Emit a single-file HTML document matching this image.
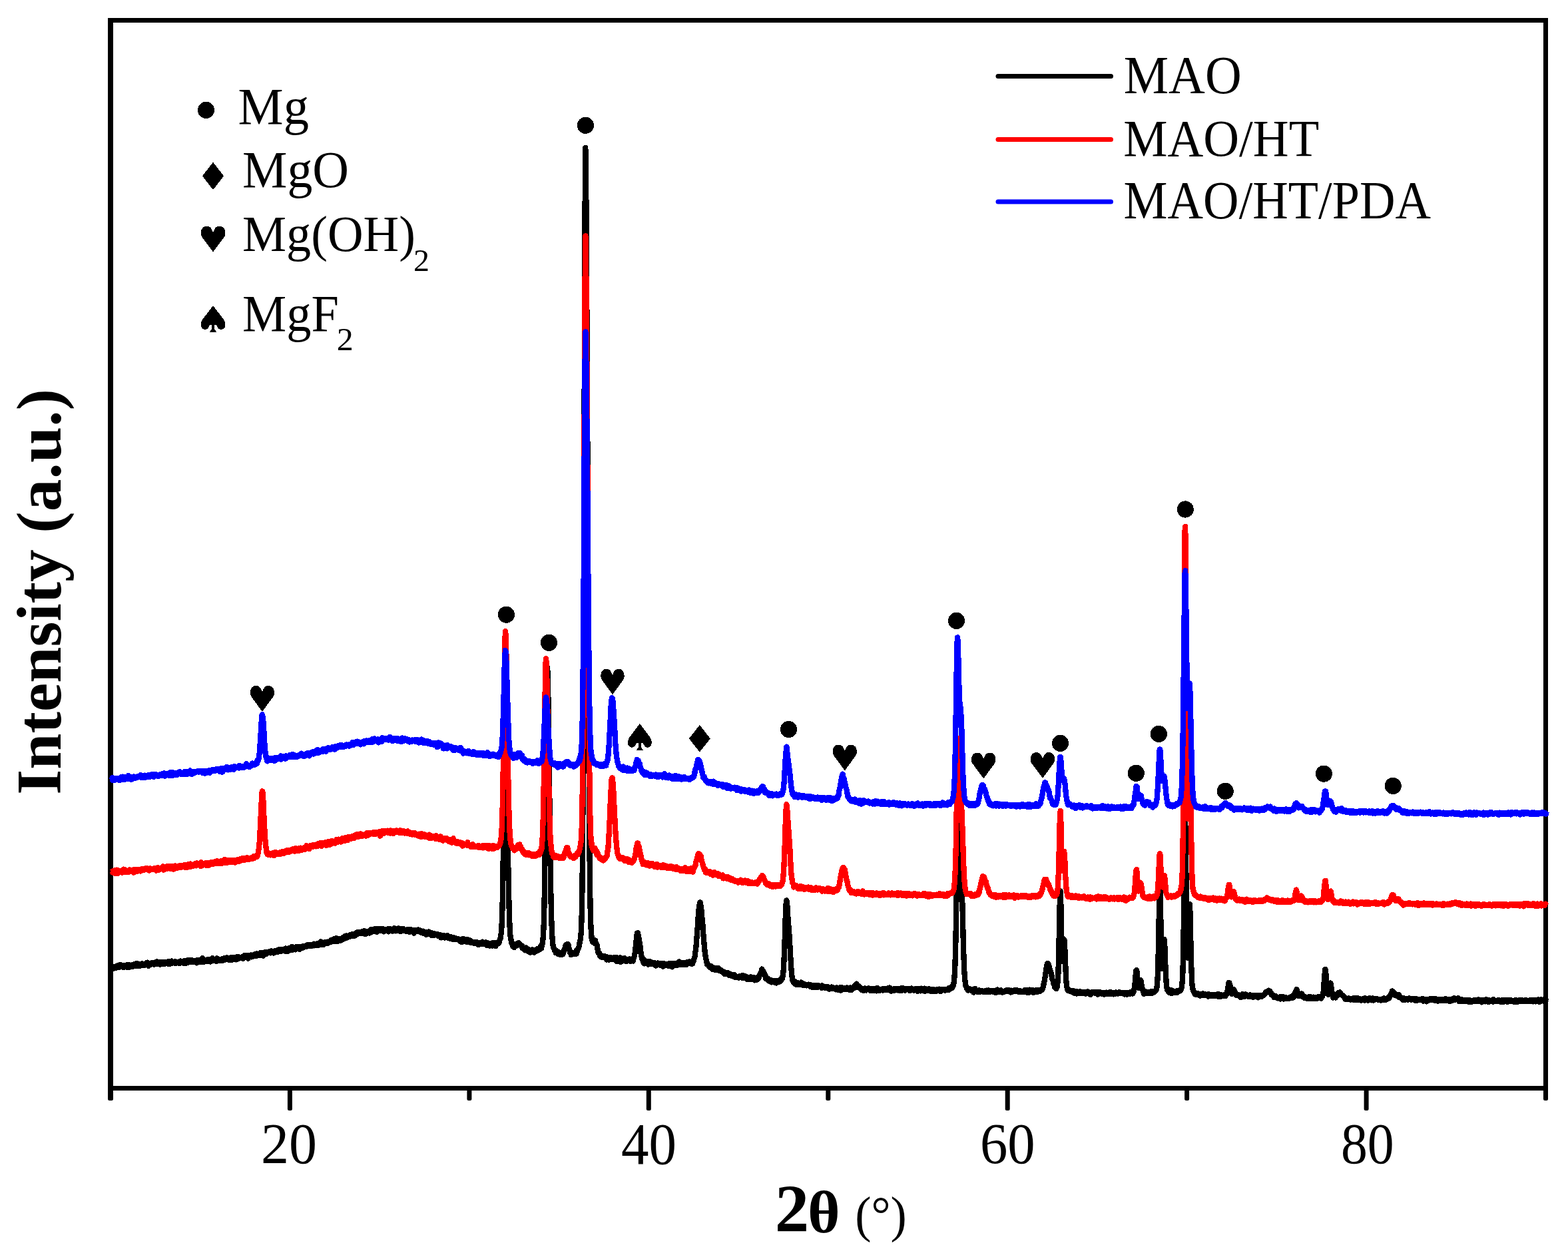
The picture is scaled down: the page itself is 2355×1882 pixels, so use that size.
<!DOCTYPE html>
<html><head><meta charset="utf-8"><title>XRD</title>
<style>
html,body{margin:0;padding:0;background:#fff;overflow:hidden}
svg{display:block}
text{font-family:"Liberation Serif","Times New Roman",serif;fill:#000}
.tl{font-size:85px}
.lg{font-size:77px}
.sub{font-size:45px}
.ax{font-size:98px;font-weight:bold}
.axr{font-size:80px;font-weight:normal}
</style></head><body>
<svg width="2355" height="1882" viewBox="0 0 2355 1882">
<rect width="2355" height="1882" fill="#fff"/>
<g fill="#000">
<rect x="162" y="27" width="2163" height="7"/>
<rect x="162" y="1631" width="2163" height="7"/>
<rect x="162" y="27" width="8" height="1611"/>
<rect x="2318" y="27" width="7" height="1611"/>
<rect x="162" y="1633" width="8" height="20" rx="2.5"/>
<rect x="2318" y="1633" width="7" height="20" rx="2.5"/>
<rect x="431.9" y="1633" width="7" height="35" rx="2.5"/>
<rect x="970.8" y="1633" width="7" height="35" rx="2.5"/>
<rect x="1509.7" y="1633" width="7" height="35" rx="2.5"/>
<rect x="2048.6" y="1633" width="7" height="35" rx="2.5"/>
<rect x="701.4" y="1633" width="7" height="20" rx="2.5"/>
<rect x="1240.3" y="1633" width="7" height="20" rx="2.5"/>
<rect x="1779.1" y="1633" width="7" height="20" rx="2.5"/>
</g>
<g fill="none" stroke-width="8.3" stroke-linejoin="round" stroke-linecap="butt" shape-rendering="crispEdges">
<path d="M166.5 1453.7 l.5-.1 .6 0 .6-.1 .5-.6 .6-.8 .5 1.3 .6 1.5 .5-2.3 .6-.2 .5 1.3 .6-.2 .5-.4 .6-1.4 .5 1.1 .6 .8 .5-2.6 .6 1.1 .5-1.9 .6 .7 .5-.8 .6 2 .5-1.4 .6 1.9 .5-.2 .6-.5 .5-3 .6 2.4 .5 .6 .6 .1 .5-2.1 .6 1.3 .5-.7 .6 .1 .5 2.3 .6-2.4 .5 .9 .6 1.1 .5-1.9 .6 .6 .5 .2 .6-.1 .5-1.7 .6 1.6 .5 1.5 .6-3.7 .5 3 .6-1 .5-1 .6 3.2 .5-1.6 .6-2.5 .5 1.5 .6 .6 .5-1 .6 1 .5-1 .6 .9 .5 .9 .6-2.7 .5 1.1 .6-.9 .5 .6 .6-1.6 .5 .7 .6 .4 .5 1.3 .6 .3 .5-3.2 .6 .6 .5 1.8 .6-3.4 .5 1.9 .6 .4 .5 1.6 .6-.7 .5-1.4 .6-.1 .5 .1 .6 2.2 .5-2.5 .6 .1 .5 .8 .6-.6 .5-.2 .6-1.2 .5 1.3 .6-.5 .5 1.9 .6-.7 .5-.9 .6 .9 .5-1.3 .6 1.6 .5-1.3 .6 .7 .5-2.4 .6 2 .5-2.6 .6-.5 .5 2.1 .6-.8 .5 1.3 .6 2.6 .5-3.9 .6 .2 .5 1 .6 .3 .5-.8 .6-.1 .5 1.1 .6-.3 .5-2 .6 1.2 .5 .1 .6-1.4 .5 1.6 .6-1.5 .5 2.3 .6-1 .5-.2 .6-.9 .5 .6 .6-2.4 .5 1 .6 1.9 .5-3.2 .6 3.7 .5-3.3 .6 3.1 .5-2 .6 2 .5-.9 .6-2.1 .5 3.5 .6 .2 .5-1.9 .6-.3 .5 .1 .6-1.1 .5 2.6 .6-2.1 .5 .6 .6-1 .5 .2 .6-.8 .5 3.1 .6-1.8 .5 1.4 .6-1.2 .5-1 .6 .5 .5-.4 .6 .7 .5-.5 .6 .1 .5-1.4 .6 .7 .5 3 .6-2.9 .5-.5 .6 1.7 .5 1.3 .6-3.6 .5 1.5 .6-.5 .5-1.5 .6 3.1 .5-.9 .6 .1 .5-1.1 .6 1.5 .5-1.3 .6 .5 .5-1.3 .6-.1 .5 3.1 .6-2.3 .5 1 .6-.4 .5-.6 .6-.1 .5 1.4 .6-1.2 .5 .2 .6 .2 .5 1.4 .6-.7 .5-.4 .6-1.2 .5-1 .6 2.9 .5 0 .6-1.5 .5 .9 .6 .2 .5 .1 .6 .1 .5-1.8 .6 2.4 .5-3.4 .6 2.6 .5-.5 .6 .4 .5 1.3 .6-.6 .5-3.3 .6-.7 .5 3.1 .6-2.3 .5 1.2 .6 1.1 .5-3.2 .6-.6 .5 2.9 .6-.3 .5-.4 .6 .4 .5-1.2 .6-.8 .5 1.6 .6-1 .5-.9 .6 2.7 .5-.8 .6 .6 .5-1.8 .6 .4 .5-.5 .6 .1 .5 1.3 .6-1.2 .5 1.4 .6-.1 .5 2.1 .6-4.3 .5 2.8 .6-1.3 .5 .1 .6-1.8 .5 1.2 .6 1.4 .5-1 .6 .1 .5-.5 .6 1.8 .5-1.5 .6-2.8 .5 1.9 .6-1.7 .5-1.6 .6 3.3 .5 2.3 .6-1.6 .5-1.6 .6 .3 .5 2.5 .6-1.2 .5-.2 .6-.2 .5 .1 .6 .9 .5-.3 .6-.5 .5-1.6 .6 1.9 .5-1.5 .6 2.1 .5-3 .6 1.4 .5 .1 .6-1.6 .5 3.7 .6-.3 .5-2.5 .6 1.5 .5-.5 .6-3.8 .5 3.5 .6-.4 .5 .1 .6-1.5 .5 1 .6 .1 .5 1.6 .6-1.1 .5-.4 .6 1.8 .5-2.6 .6 .1 .5-1.8 .6 4.2 .5-.8 .6-.1 .5-.4 .6-.7 .5 .1 .6-.6 .5 0 .6 .2 .5 1.8 .6-1.2 .5-.8 .6-.7 .5-.2 .6 2.8 .5-1.4 .6-.6 .5-.6 .6-1 .5 1.3 .6 1.1 .5-1.6 .6 .1 .5 0 .6 .3 .5-2.1 .6 1.6 .5-.8 .6 2.1 .5-2.1 .6 1.6 .5 1.1 .6-2.3 .5-.4 .6 .9 .5-.3 .6-1.3 .5 1.8 .6 1.9 .5-2.9 .6 0 .5-1.1 .6 1.6 .5-2 .6 .1 .5 3 .6-2.8 .5 2.4 .6 .5 .5-1.6 .6 .3 .5 1.7 .6-2.8 .5-.5 .6-1 .5 1.6 .6 1.8 .5-.7 .6-2.5 .5 .1 .6 .4 .5 .9 .6-.7 .5 .5 .6 0 .5-.8 .6 .3 .5 .2 .6-.4 .5 .6 .6 1.7 .5-1.7 .6-.7 .5-2.3 .6 2.6 .5-3 .6 .6 .5 2.7 .6-.2 .5-1.2 .6-2 .5 1.6 .6-.4 .5 1.5 .6 2 .5-2.7 .6-1.3 .5-.6 .6 1.3 .5-.2 .6-1.3 .5 1.5 .6-1.7 .5 2.8 .6-.2 .5-.1 .6-2 .5 1.1 .6-.9 .5-.4 .6 0 .5-1.3 .6-.3 .5 2.7 .6-1.4 .5 .4 .6 .9 .5-3.5 .6 1.1 .5 1.1 .6 .1 .5-1 .6 1.6 .5-1.1 .6-1.9 .5 .2 .6 2.1 .5-.5 .6-3.1 .5 3.9 .6-1 .5 .8 .6-2.3 .5 0 .6-1.1 .5 4.5 .6-3.5 .5 2.1 .6-2.9 .5 .9 .6-2.4 .5 1.5 .6 1.6 .5-3 .6 2.8 .5-1 .6-1.8 .5 .6 .6-.1 .5 .4 .6-.7 .5-.5 .6 .6 .5-1 .6-.5 .5 1.5 .6 1 .5-3.1 .6 1.8 .5-.9 .6-.5 .5 2.2 .6-1.8 .5 2.4 .6-2.9 .5 1.4 .6-.9 .5-.7 .6 1.5 .5-1 .6 .9 .5-.9 .6-1.4 .5 1.1 .6 .1 .5 1.1 .6-2.4 .5 1 .6-2.2 .5 2.8 .6-2.2 .5-1 .6 2.1 .5 1.4 .6-3.4 .5 .5 .6 .3 .5-.6 .6 1.8 .5-1.5 .6 0 .5 1.5 .6-1.7 .5 1.4 .6-1.8 .5-.4 .6-.9 .5 4.5 .6-2.8 .5 .7 .6-.5 .5 .2 .6-.2 .5 2.2 .6-3.8 .5-.7 .6 .6 .5-.5 .6 2.5 .5 0 .6-2.3 .5-.6 .6 1.2 .5 2.1 .6-5.3 .5 4.1 .6-2.1 .5 2.6 .6-2.8 .5 .9 .6-1.6 .5 .6 .6 2.9 .5-.8 .6-1.6 .5-.7 .6-1.4 .5 1.8 .6 .4 .5-.2 .6-.1 .5-1.4 .6 1.3 .5-.1 .6 1.6 .5 .6 .6-2.6 .5-.8 .6 .7 .5-.7 .6-.3 .5 .8 .6-1.4 .5 2 .6-1 .5 .4 .6-.7 .5-.7 .6-.4 .5 .8 .6-.5 .5 .9 .6-.4 .5-1.8 .6 1.7 .5-1.9 .6 .8 .5 .3 .6-2.3 .5 2.6 .6 0 .5-.5 .6-.4 .5-.1 .6-.8 .5 .7 .6-.4 .5 .7 .6-1.7 .5 1.7 .6-.3 .5-.4 .6-.5 .5 1.1 .6-2.8 .5 2.5 .6-.4 .5 0 .6 0 .5-1.4 .6 .4 .5 1 .6-.4 .5-.4 .6-2.2 .5 2.4 .6 .7 .5-.3 .6-1.1 .5-2.3 .6 3 .5-1.5 .6-3.1 .5 3.5 .6-2.4 .5 .1 .6 .7 .5 2.3 .6-2.2 .5 .7 .6 1.8 .5-.4 .6-2.2 .5-.3 .6-1.4 .5 .6 .6 1.3 .5-.2 .6-.4 .5 .9 .6-2.3 .5 .8 .6 .9 .5-.4 .6 .5 .5-.9 .6-1 .5 .7 .6-1.9 .5-.9 .6 2.7 .5-1 .6 .4 .5-2.7 .6 1.6 .5-.5 .6-.4 .5-1.9 .6 2.3 .5 1.4 .6-.8 .5-1.4 .6 .6 .5 .8 .6-4.5 .5 3.1 .6 .7 .5 0 .6 1.1 .5-.9 .6-1.1 .5-.2 .6 .4 .5-1.8 .6 .4 .5 1 .6 1.2 .5-2.9 .6 0 .5 .1 .6 1.2 .5-1.9 .6 1.7 .5-3.2 .6 .8 .5-.2 .6 1 .5 .1 .6-3.3 .5 .5 .6 1.4 .5-1.5 .6-1.2 .5 3 .6-.9 .5-.2 .6-1.4 .5 1.7 .6-1.8 .5 1.5 .6-2.7 .5-.1 .6 1.1 .5-1.3 .6 1.5 .5-.7 .6-1.6 .5 1 .6-.7 .5 1.4 .6-2.1 .5 .1 .6 1.9 .5 1.1 .6-.5 .5-2.6 .6 .1 .5 1.5 .6-2.3 .5-1.2 .6 1.2 .5 .3 .6-1.7 .5-1.2 .6 .1 .5 2.5 .6-1.9 .5 .7 .6 .3 .5 .4 .6-1.3 .5 1 .6-1.9 .5 .6 .6-.9 .5 2.6 .6-1.5 .5-1 .6 .4 .5 .1 .6 1 .5-2.9 .6 .6 .5 .7 .6 3.6 .5-2.1 .6-1.4 .5 1 .6 1.6 .5-3 .6-.2 .5 1.9 .6-1 .5 .1 .6-1.5 .5 3 .6-.4 .5-1.5 .6 .1 .5-3.5 .6 3.3 .5-1.1 .6 .7 .5 .2 .6-1.3 .5-1.8 .6 2.5 .5-1.4 .6 .4 .5-.4 .6 .3 .5-2.6 .6 4.4 .5-1.3 .6 1 .5 1 .6-2.5 .5-2.3 .6 1.1 .5-.5 .6 .9 .5 .6 .6-2.6 .5 2.9 .6-2.4 .5 2.2 .6-.5 .5-.3 .6 .2 .5-.6 .6-.1 .5-1.4 .6 2 .5 2.3 .6 .2 .5-.9 .6-.8 .5-1.8 .6 2.7 .5-1.9 .6-.1 .5-.3 .6 .5 .5-.7 .6 .4 .5-1.2 .6 .9 .5 3.3 .6-3 .5-.2 .6 1 .5 .2 .6-2.3 .5 1.1 .6 1.5 .5-.9 .6-.1 .5 1.8 .6-2.8 .5 .9 .6-.7 .5 2.5 .6-4.3 .5 1.7 .6 .1 .5 1.6 .6-.1 .5 1 .6-3.7 .5 2.9 .6-1.2 .5-.5 .6 1.5 .5-1.8 .6-1.4 .5 2.2 .6-1.4 .5 1.1 .6 1.3 .5-.1 .6 1.7 .5-2.2 .6-1.7 .5 1 .6-.1 .5-.4 .6 2.1 .5-1.3 .6-1.6 .5 3.4 .6-1 .5 .6 .6-.3 .5 .7 .6-.7 .5 1.6 .6-1 .5 0 .6 .1 .5-2.3 .6 1.6 .5 0 .6 .6 .5-1.9 .6 3.8 .5-1.9 .6-1.6 .5-.6 .6 1.9 .5 .2 .6-.7 .5 1.1 .6-.9 .5 1.5 .6-1.5 .5 .9 .6 1.3 .5 2.1 .6-4.5 .5 .8 .6-.5 .5 2.1 .6-2.3 .5 .8 .6 .6 .5-1.1 .6 .1 .5 .6 .6-1.9 .5 .8 .6 1.4 .5 .8 .6-.4 .5-1.9 .6 1.7 .5 1.6 .6-.2 .5-.7 .6-.9 .5 1.9 .6-1.4 .5-.6 .6 .5 .5 2.9 .6-1.4 .5 1.2 .6-1.9 .5 1.8 .6-1.8 .5 .7 .6 3.4 .5-2.1 .6-1.5 .5 .7 .6 .6 .5 1.2 .6-2 .5-1.5 .6 2 .5 .4 .6 .3 .5 1.6 .6-1.1 .5 .7 .6-2.3 .5 2.6 .6 1.7 .5-1.6 .6-.5 .5 0 .6 2.1 .5-3.2 .6 1.1 .5 .9 .6 .4 .5-1.3 .6 1 .5-.6 .6 .6 .5-.2 .6-1.1 .5 1.5 .6 1.3 .5-2.2 .6 1 .5 1.3 .6-2.1 .5 1.7 .6-1.4 .5 2.9 .6 1.5 .5-.2 .6-2.7 .5 1.3 .6-.6 .5 .1 .6 1.9 .5-3.5 .6 3.1 .5-1.3 .6 2 .5-1.4 .6-1 .5 1.3 .6 .7 .5-.8 .6 .7 .5-1.2 .6-1.9 .5 3.9 .6-.1 .5-.6 .6 0 .5 1.3 .6-1.7 .5-.2 .6 .7 .5 1.9 .6-3.1 .5 3.3 .6-2.2 .5-.4 .6 3 .5-1.5 .6-1.4 .5 1.3 .6 1.7 .5 .4 .6-1.9 .5 1.2 .6 .5 .5-1.6 .6 1.4 .5-.4 .6-.5 .5 .1 .6 .9 .5 0 .6-.6 .5 .3 .6 2 .5-1 .6 1 .5 .5 .6-.7 .5 2.2 .6-3.7 .5 2.1 .6-1.3 .5 2.9 .6-.1 .5-4.5 .6 1.4 .5 2.1 .6 .3 .5 0 .6-.9 .5 .8 .6 .4 .5-.9 .6 1.5 .5-4 .6 3.8 .5-2 .6 2.6 .5-1.4 .6-.7 .5 1.7 .6-1.6 .5 .1 .6-.7 .5 2.1 .6 .7 .5 .8 .6-1.4 .5 1.6 .6-1.2 .5-.1 .6 1 .5 .7 .6-1.7 .5 .2 .6 .2 .5 .4 .6-1.1 .5 2.5 .6-1.7 .5 1.1 .6-1.5 .5 1.6 .6 .1 .5-.9 .6 3.1 .5-2 .6 1.8 .5-.9 .6-1.9 .5 .4 .6 1.1 .5-.4 .6 0 .5-.3 .6-1.8 .5 2 .6-2.4 .5 3.3 .6-1.3 .5 .1 .6 .7 .5 .6 .6-2 .5-.4 .6 .9 .5-1.1 .6 1.4 .5 3.2 .6-3.2 .5 2.2 .6-2.5 .5 2.1 .6-.7 .5 .3 .6 .9 .5 1.5 .6-1.9 .5-.1 .6-1.3 .5 1.9 .6-1 .5 1.4 .6-1.1 .5 2.2 .6-4.7 .5 2.1 .6 1.4 .5-1.5 .6-.6 .5 .5 .6-1.4 .5 1.7 .6 2.8 .5-1.8 .6-3 .5 .1 .6 .3 .5 1.5 .6-2.6 .5-.3 .6 1.5 .5-.7 .6-2.3 .5-1.9 .6-1.9 .5-.9 .6-5.1 .5-1.3 .6-9.8 .5-11.3 .6-17.1 .5-27.4 .6-38.1 .5-40.8 .6-48.8 .5-53.2 .6-46.4 .5-33.1 .6-18.6 .5 5 .6 10.9 .5 27.8 .6 34.9 .5 39.5 .6 42.8 .5 41.6 .6 37.2 .5 33.8 .6 21.7 .5 22.4 .6 13.3 .5 10.9 .6 6.7 .5 2.9 .6 3.1 .5 3.7 .6 .8 .5-.3 .6 4.2 .5 .9 .6-4.2 .5 2.6 .6 3.1 .5-1.9 .6-.6 .5-.5 .6-.5 .5 .2 .6-.7 .5 1.2 .6-1.9 .5-.5 .6-1.5 .5 1 .6-1.4 .5 .6 .6 1.5 .5-.7 .6 .6 .5 .4 .6 .3 .5 .6 .6 .6 .5 2.2 .6-1.5 .5 3.7 .6-.9 .5-.4 .6 .8 .5 .2 .6 1.4 .5-.8 .6 2.6 .5-2.2 .6-1.7 .5 2.1 .6-1.5 .5 2.6 .6 1.5 .5-.4 .6-2.4 .5 .8 .6 3.3 .5-1.8 .6-.3 .5 1.4 .6 1.8 .5-1.4 .6-1.4 .5 .3 .6 .4 .5-1.5 .6-.6 .5 1.4 .6-1.2 .5 1.1 .6 .2 .5 2.8 .6-4 .5 .9 .6-.1 .5 .7 .6 .7 .5-2 .6-.5 .5-1.2 .6 .8 .5 1.6 .6-.8 .5-1.6 .6 .6 .5 .1 .6 .2 .5-1.8 .6-.1 .5-2.7 .6 .1 .5 2.4 .6-6.1 .5 .3 .6-2.3 .5-5.4 .6-8 .5-11 .6-18.3 .5-26.6 .6-38.7 .5-44.3 .6-55.9 .5-59.4 .6-57.2 .5-47.8 .6-30.2 .5-10.7 .6 11.8 .5 24.1 .6 32.7 .5 39.8 .6 42.8 .5 47.4 .6 47.8 .5 39.6 .6 38.2 .5 28.4 .6 22.6 .5 14.6 .6 12.3 .5 8.6 .6 6 .5 3.4 .6 .8 .5 1.4 .6 .4 .5 2.5 .6-.1 .5 1.8 .6 1.9 .5-1.7 .6-1.3 .5 1.2 .6-.4 .5 .6 .6 3.4 .5-1.1 .6-1.9 .5 2.8 .6 1 .5-1.9 .6-.3 .5 .5 .6 .8 .5 .5 .6 .6 .5-.2 .6-.3 .5-.3 .6-1.5 .5-3.5 .6 .6 .5-.7 .6-2.4 .5 0 .6-3.3 .5-2.4 .6 1.5 .5-2.1 .6-1.1 .5 .9 .6 .8 .5 .3 .6-1.9 .5 3.9 .6 2 .5 1 .6 2.9 .5 2.6 .6-1 .5 0 .6 4.5 .5-2.7 .6-.7 .5 1.9 .6 .3 .5-1.5 .6 1.7 .5-1.8 .6-.8 .5 1.1 .6 .3 .5-2.1 .6 .7 .5-1.1 .6 3 .5-5 .6 1.7 .5-2.7 .6-1.1 .5-.2 .6-1.2 .5-1.2 .6-3.1 .5-3.4 .6-2.7 .5-2.3 .6-4.7 .5-6 .6-12.3 .5-17.7 .6-30.6 .5-52.5 .6-80.5 .5-112.4 .6-148.9 .5-174.4 .6-193.8 .5-173.7 .6-128.9 .5-53.2 .6 17.1 .5 65.1 .6 88.9 .5 98.7 .6 107.6 .5 119.4 .6 130 .5 129.8 .6 111.8 .5 99.5 .6 74.2 .5 56 .6 37.7 .5 22.5 .6 15.5 .5 5.8 .6 8.5 .5 1.2 .6 3.4 .5 .5 .6-2.9 .5 2.3 .6 .9 .5 1.2 .6-1.9 .5-.2 .6-1.8 .5 4.1 .6 1.7 .5-.5 .6 1.7 .5 .4 .6 5.3 .5 4.3 .6-.4 .5 2.4 .6 .7 .5-.6 .6 3.8 .5-2.2 .6 1.9 .5 1.1 .6 1.1 .5-.2 .6 .3 .5-1.1 .6-.5 .5 1.9 .6-.8 .5-.5 .6 .2 .5 1.1 .6-1.5 .5 .7 .6-.2 .5 2.3 .6 .4 .5 2 .6-4.1 .5 1.1 .6 2 .5-1.3 .6 0 .5 2.5 .6-2.4 .5-.9 .6-.1 .5 2.1 .6 0 .5-2 .6 .6 .5 1.9 .6 .1 .5-1.4 .6 1.5 .5 0 .6-2.7 .5 1.8 .6 .9 .5-1.1 .6-1.8 .5 2.2 .6 1.3 .5 1.1 .6-4.5 .5 5.8 .6-4.4 .5 2.5 .6 .4 .5-.3 .6-.9 .5-1.6 .6 2.2 .5-1.6 .6-2.1 .5 6.5 .6-2.5 .5 1.3 .6-3.2 .5 2.9 .6 .2 .5 0 .6-1.9 .5-1.4 .6 1.3 .5-2.4 .6 .6 .5 2.2 .6-1.3 .5 1.1 .6 .1 .5 2.4 .6-.7 .5-1.6 .6 1.5 .5-2.3 .6 .5 .5 1.5 .6-2.5 .5 1.1 .6-1.2 .5 1.7 .6 1.8 .5-2.9 .6 1.1 .5-1.4 .6-.4 .5-.3 .6 2.9 .5 .6 .6-3.1 .5-2.7 .6-.2 .5-3.8 .6-2.1 .5-4.9 .6-4.9 .5-4.8 .6-6.6 .5-4.2 .6-4.7 .5 .2 .6-.9 .5 3.1 .6 1.5 .5 4.2 .6 3.9 .5 1.6 .6 4.8 .5 3.9 .6 6 .5 4.6 .6 2.1 .5 1 .6 4.1 .5-2 .6 4.7 .5-1.8 .6-2 .5 6.8 .6-.9 .5-2.9 .6 1.6 .5-.3 .6 .5 .5-1.7 .6 1.1 .5 1.4 .6-.2 .5 1.3 .6-1.2 .5 2.7 .6-3.5 .5 1.2 .6-2.5 .5 .9 .6 3.1 .5-2.6 .6 1.8 .5-.6 .6-1.1 .5 .9 .6-.1 .5 .1 .6 1.5 .5-.1 .6-1.3 .5-.4 .6 1.5 .5-.4 .6 1.4 .5 2 .6-2.1 .5-1 .6-.1 .5-.7 .6 0 .5-.1 .6 .8 .5 0 .6 1.5 .5-1.3 .6 .3 .5-1.2 .6 3.4 .5-1.3 .6 1.6 .5-1.1 .6 .8 .5-2 .6 1.2 .5 2.4 .6-4.6 .5 2.9 .6 .6 .5-1.4 .6 .4 .5 .6 .6-2.2 .5 1.3 .6-1.5 .5 .3 .6 .1 .5 .5 .6 .4 .5 .4 .6-2.2 .5 4 .6-.9 .5-.5 .6-1.3 .5 .3 .6 .8 .5-.2 .6-2.5 .5 2.9 .6 2.5 .5-5.7 .6 3.4 .5-.8 .6-.7 .5 1.7 .6-3.1 .5 1.5 .6 1.5 .5-2 .6-.4 .5 .6 .6-.8 .5 2.3 .6-3 .5 2 .6-2.6 .5 2.2 .6-1 .5-3.1 .6 3 .5-1.3 .6 .7 .5 2.2 .6-3.2 .5 0 .6 3 .5-1.6 .6 1.6 .5-1.4 .6-1.5 .5 1 .6 1.5 .5-.4 .6-1.1 .5 0 .6-.2 .5-.6 .6 3 .5-2.3 .6-1.4 .5 .8 .6 1.4 .5-.2 .6-.9 .5-.7 .6 .8 .5-2.1 .6 .4 .5 2.4 .6-1.6 .5 .9 .6 .9 .5-.9 .6-1 .5 2.2 .6-2.2 .5-1.9 .6 .4 .5-1.6 .6-3.1 .5-1 .6-3.1 .5-5.6 .6-2.2 .5-5.3 .6-6.3 .5-8.3 .6-6 .5-7.7 .6-8.1 .5-9.5 .6-5.2 .5-8.4 .6-3.4 .5-1 .6-3.1 .5 1.3 .6 4.5 .5 2.3 .6 5.4 .5 6.8 .6 7.9 .5 3.5 .6 9.2 .5 7.2 .6 7 .5 6.8 .6 5.8 .5 6.5 .6 3 .5 4.9 .6 3.4 .5 1.2 .6 3 .5 3.4 .6-.3 .5-.2 .6 1.5 .5-.4 .6 1.9 .5 1.1 .6-1.6 .5 1.1 .6 1.8 .5-1.6 .6 1.1 .5-1.2 .6 .5 .5 .5 .6 3.3 .5-2.7 .6 0 .5 .2 .6 .6 .5 1.2 .6-.4 .5 2.3 .6-1.9 .5 1.6 .6-1.2 .5 .6 .6-2.1 .5 1.7 .6 .3 .5 0 .6-1.9 .5 3.7 .6-1.2 .5 .2 .6 .5 .5 .3 .6 1 .5-1.6 .6 .6 .5 1.7 .6 .1 .5-.3 .6 .1 .5 0 .6 1.2 .5 1.6 .6-2.2 .5 3.2 .6-.5 .5-1.2 .6 1.7 .5-2.3 .6 0 .5 .8 .6 1.2 .5 .3 .6 0 .5 1 .6-2.4 .5 3.2 .6-2 .5 1.1 .6 .4 .5-.7 .6-.1 .5 .5 .6 1.3 .5 .8 .6 0 .5-1.6 .6 .4 .5-.1 .6 1.7 .5-2.7 .6 3.7 .5-1.8 .6-.2 .5 1.3 .6 .9 .5-.7 .6 .9 .5-.9 .6 1.3 .5 .1 .6-1.5 .5 1.8 .6-1.3 .5 0 .6-1.1 .5 .8 .6 1.3 .5-2.3 .6 2.3 .5-.3 .6 0 .5-2.7 .6 2.4 .5 .9 .6-1.5 .5 1 .6-2.7 .5 3.5 .6-1.4 .5 1.7 .6-2.9 .5 2.9 .6-1 .5 1.2 .6-1.8 .5 .4 .6 3.2 .5-3.4 .6 .2 .5 .6 .6-.8 .5 2.5 .6 .7 .5-2.7 .6-1 .5 3.2 .6 0 .5-.2 .6 .4 .5-2.2 .6 .8 .5-1.2 .6 0 .5 2.7 .6-1.8 .5 3.3 .6-2.4 .5-.7 .6 1.6 .5 1.1 .6-1.5 .5-2 .6 1.6 .5 .9 .6-2.4 .5-.8 .6 1.4 .5-1.8 .6-2.4 .5-.4 .6-1.8 .5-.4 .6-1.7 .5-.2 .6-1.7 .5-3.3 .6 1.9 .5 .9 .6 .4 .5 1.9 .6-.2 .5 1.2 .6 3.7 .5-.6 .6 .2 .5 4.7 .6-.9 .5 1.3 .6-.5 .5 .6 .6 .5 .5 1.2 .6 1.1 .5-2.8 .6 3.5 .5-2 .6 .3 .5 2 .6-.7 .5-1.5 .6 3.7 .5-2.8 .6 1.2 .5 .1 .6 1.3 .5-1.9 .6 1.6 .5-1.9 .6 2.1 .5-2 .6 .5 .5 2.5 .6-1.7 .5-.3 .6 2.4 .5-2.1 .6-1.3 .5 1.7 .6-2.1 .5 2.5 .6 0 .5-2 .6-.2 .5 .8 .6-.4 .5-1.2 .6 1.4 .5-3.2 .6 1.3 .5-.6 .6-1 .5-1.1 .6-4.5 .5-2.5 .6-7.5 .5-10.1 .6-13.4 .5-15.4 .6-15.8 .5-19.2 .6-14.5 .5-9.7 .6-4.1 .5 3.2 .6 5.1 .5 7.9 .6 10.8 .5 6.5 .6 7.3 .5 5.5 .6 9.2 .5 9.1 .6 10.3 .5 10.2 .6 9.4 .5 7.9 .6 6.4 .5 5.6 .6 1.8 .5 4.7 .6-.5 .5 2.2 .6-.5 .5 .3 .6 2.9 .5-2.3 .6-.8 .5 .9 .6 .6 .5 2.8 .6-1.9 .5 .9 .6-1.9 .5 1.6 .6 .5 .5 1.3 .6-2.6 .5 1.5 .6-.2 .5-1.3 .6 1.1 .5-.1 .6-2.2 .5 3.3 .6 0 .5-1 .6-.9 .5 3.1 .6-1.2 .5 .9 .6 .5 .5-2 .6 1.5 .5-1.1 .6 .3 .5 .1 .6 .1 .5 1.3 .6-1 .5-.2 .6-.1 .5 .8 .6-1.3 .5 .5 .6 .6 .5-.5 .6 .6 .5-.5 .6 2.9 .5-.7 .6-.8 .5-.5 .6 2.5 .5-1.9 .6-.4 .5 .5 .6 .1 .5 1.3 .6-1.5 .5 2.4 .6-3.1 .5 1.7 .6-1.7 .5 3.1 .6-2.2 .5 .3 .6 1.2 .5 .4 .6-2.4 .5 .9 .6-1.1 .5 1.7 .6-.1 .5-.2 .6-.3 .5 .4 .6-.3 .5 1.4 .6 1.1 .5-3.6 .6 2.1 .5-.3 .6 1 .5-1.4 .6 .9 .5-.9 .6 2 .5-.6 .6-.2 .5 .6 .6-.6 .5-1.3 .6 2.3 .5-.2 .6-.4 .5 1.2 .6 .4 .5-2.4 .6 .4 .5 2.5 .6-.1 .5-2.2 .6-.5 .5 .7 .6 .2 .5-1.1 .6 1.7 .5-1.3 .6 .1 .5 2.3 .6-1.7 .5 .7 .6 .8 .5 .2 .6-1.2 .5 .5 .6-.9 .5 2.7 .6-1.1 .5-1.8 .6 1.2 .5 .7 .6-.2 .5 1.5 .6-.5 .5-2 .6 .5 .5-1.2 .6 1.6 .5 0 .6 2.7 .5-2.7 .6-2.3 .5 1.5 .6 .9 .5-1.5 .6 .5 .5 .5 .6 .8 .5-.5 .6-.8 .5 1.8 .6-1.4 .5 .1 .6-.9 .5 .6 .6 1.6 .5-2.4 .6 1.6 .5 .9 .6-1.2 .5 .7 .6-1.4 .5 2.5 .6-.2 .5-.9 .6-2.1 .5 .7 .6 2.1 .5 .6 .6-1.5 .5 .8 .6-2.1 .5 .1 .6-.1 .5 .1 .6-2.5 .5 2.1 .6-.1 .5-3.1 .6-.7 .5 1.3 .6-1.5 .5-2.1 .6 3.2 .5-.6 .6-.4 .5 3 .6-1.5 .5-.4 .6 1.4 .5-.6 .6 .8 .5 1.7 .6-.6 .5 .5 .6 2.5 .5-.6 .6 .2 .5-.1 .6 0 .5 1.1 .6-1.4 .5 2 .6-2.9 .5 .8 .6-1.2 .5 1.1 .6 .9 .5 1 .6-2.2 .5 .7 .6-.3 .5-.4 .6-.5 .5 1.3 .6-1.8 .5 1.9 .6-.1 .5-.7 .6-.3 .5-.4 .6 3.4 .5-3.3 .6 3 .5-1 .6-1 .5-.8 .6 2.2 .5 .8 .6-2.8 .5 .7 .6 1.4 .5-.8 .6 1.7 .5-2.6 .6 1.2 .5-1.9 .6 3.5 .5-3 .6-1.5 .5 2.2 .6 0 .5 2.1 .6-2.3 .5 .3 .6 .6 .5 1 .6-1.6 .5 1.1 .6-.5 .5-.9 .6 .4 .5 0 .6-1 .5 2.2 .6-2.7 .5 2.6 .6-.2 .5-1.1 .6-.6 .5 .5 .6 .7 .5 .3 .6-.5 .5 .8 .6-1.6 .5 .8 .6-1.9 .5 2.4 .6-.6 .5-.6 .6 1.6 .5-.4 .6-3.6 .5 2.9 .6-1.5 .5 2.5 .6 1.5 .5-3.1 .6 .6 .5-.3 .6 .6 .5 .3 .6 .7 .5-2.3 .6 2.6 .5-2.6 .6 1.2 .5 .9 .6-.4 .5-1.7 .6 .2 .5 .3 .6 .4 .5 1.2 .6-2.5 .5 1.8 .6 .2 .5-.1 .6-.1 .5 1.1 .6-1 .5 .3 .6-.3 .5 1.3 .6-3.8 .5 3.3 .6-1.6 .5 0 .6-.7 .5-.9 .6 1.5 .5-.3 .6 1.2 .5-2 .6 2.9 .5-1.2 .6-.5 .5-.4 .6-.1 .5-.4 .6 .6 .5 .6 .6-.2 .5-1.2 .6 1.1 .5-.6 .6 1 .5 1.8 .6-1.3 .5-.9 .6-1.3 .5 .2 .6-.3 .5 2.4 .6-1.5 .5 .9 .6-.7 .5 .7 .6 1.3 .5-2.1 .6 .4 .5-.5 .6 1.7 .5-1.9 .6-.1 .5-.3 .6 0 .5 1.9 .6 2.1 .5-3.5 .6 1.9 .5-.7 .6-1.3 .5 .8 .6 .1 .5-.5 .6 2.7 .5-3.8 .6 2.3 .5-.1 .6-.9 .5 .8 .6 .7 .5-.7 .6 .3 .5 .3 .6-2.7 .5 3.5 .6 .8 .5-1.2 .6 0 .5-2.4 .6 1.3 .5-.7 .6 .3 .5 1.6 .6-1.8 .5 .7 .6-1.7 .5 1.7 .6 .3 .5-.8 .6 0 .5 2.6 .6-3 .5 .1 .6 .3 .5 2 .6 .9 .5-1.7 .6-1 .5 .3 .6 1.5 .5-2 .6 2.4 .5 0 .6-1.4 .5 .6 .6 .1 .5 .8 .6-2.5 .5 2.2 .6-1.6 .5-.3 .6 .8 .5-.3 .6-.8 .5-.6 .6 .7 .5 2.3 .6 .5 .5-1.3 .6 .5 .5-1.7 .6 .5 .5 .3 .6-1.4 .5 .1 .6 1 .5-.4 .6-.8 .5 1.4 .6-.7 .5 1.2 .6-1.1 .5-.3 .6 .3 .5-.4 .6-.6 .5 .2 .6 1 .5-.2 .6 .4 .5-3 .6 1 .5-.2 .6 .3 .5-.8 .6-.4 .5 .9 .6-1 .5-1.8 .6 1.9 .5-1.1 .6-2.4 .5 .2 .6-3.2 .5-.8 .6-5.5 .5-7.3 .6-10.2 .5-16.3 .6-21.8 .5-30.2 .6-37.3 .5-42.6 .6-45.5 .5-33.4 .6-26.5 .5-4.9 .6 11.8 .5 22.3 .6 27 .5 25.4 .6 18.7 .5 10.4 .6 4.7 .5 2.1 .6 7.1 .5 9.9 .6 18.3 .5 20.4 .6 23.1 .5 21.3 .6 19.2 .5 15.2 .6 10.5 .5 6.8 .6 5.1 .5 5.7 .6 .2 .5 1.4 .6 2.7 .5 .4 .6 0 .5-.4 .6 3 .5-1.5 .6 .5 .5-.5 .6-.9 .5 .3 .6 1.8 .5 .2 .6-.4 .5-.8 .6-.1 .5 1.2 .6-1 .5 2.4 .6 .3 .5 1.7 .6-1.8 .5-1.3 .6-.2 .5-2.5 .6 2.8 .5 .5 .6 1.2 .5-.3 .6 0 .5-.3 .6 .4 .5 .8 .6-2.4 .5 .7 .6-.9 .5 2.9 .6-.3 .5-.5 .6-1.8 .5 1.3 .6-.4 .5 .4 .6-.3 .5 .7 .6-.9 .5 1.3 .6-.6 .5-.5 .6 .2 .5-.4 .6 1.3 .5-1.1 .6 .6 .5-.7 .6-1 .5 2.3 .6-1.9 .5 1.6 .6-.2 .5-2 .6 .7 .5 .4 .6-.3 .5-.3 .6 1.8 .5-.9 .6 .6 .5-.8 .6 .7 .5-1 .6 .6 .5 .6 .6-.5 .5-.5 .6-.6 .5 1.2 .6 .2 .5-.6 .6-.5 .5 1.2 .6 1.9 .5-2.7 .6 .6 .5 .1 .6-2.9 .5 2.6 .6-.8 .5 2 .6-1.6 .5-.5 .6 .5 .5 .4 .6-.7 .5 .5 .6-1.3 .5 1.1 .6 .9 .5 1.2 .6-1.2 .5-.5 .6 .9 .5-.2 .6 .6 .5-.5 .6-1.2 .5 .4 .6-.1 .5 .1 .6-.1 .5-.9 .6-1.3 .5 1.4 .6-1.3 .5 2 .6-.1 .5-1.6 .6 2.3 .5 .1 .6-.7 .5 1.5 .6 .2 .5-2.9 .6 2.1 .5-.6 .6 0 .5 .5 .6-1.6 .5 .1 .6-.2 .5 .1 .6 .6 .5-1.3 .6 .4 .5 1.6 .6-.7 .5 .5 .6-2.2 .5 1.1 .6 .2 .5 .5 .6-.5 .5 1.4 .6-.9 .5 0 .6 0 .5 .7 .6-1.1 .5 1.5 .6-.6 .5-.3 .6-.1 .5 .4 .6 .5 .5-.1 .6-.5 .5 .5 .6-.7 .5 1 .6-1.2 .5-1.9 .6 3.2 .5-1.1 .6-1.3 .5 1 .6-.7 .5 2.8 .6-1.5 .5-1.9 .6 2 .5-.9 .6 2.2 .5-2.8 .6-1.2 .5 2.2 .6-.4 .5-.1 .6-1.6 .5 2.4 .6 1.2 .5-3.4 .6 2.9 .5-1.6 .6 2.7 .5-1.8 .6-.6 .5 1.2 .6-.6 .5-1 .6 1.2 .5-1.2 .6-1.2 .5 3.5 .6-2.2 .5-.3 .6 .8 .5-1.8 .6 .1 .5 .8 .6-.1 .5 .4 .6 .9 .5-1.6 .6 .7 .5-.2 .6-1.9 .5 .7 .6-1.8 .5 1 .6-1.8 .5-2 .6-3.3 .5-1.1 .6-3.7 .5-2 .6-4.4 .5-4.6 .6-2.4 .5-4 .6-4.6 .5-1.1 .6-3.2 .5-.8 .6 .6 .5 .1 .6 1.7 .5 2 .6 3.4 .5 1.8 .6 .2 .5 3.5 .6 .3 .5 2.3 .6 2.6 .5 1.7 .6 4.4 .5 .4 .6 .9 .5 4.6 .6 .3 .5 1.8 .6-1.2 .5 4.9 .6 .6 .5 .5 .6 .4 .5 .5 .6-2.3 .5-.6 .6-4.7 .5-5.8 .6-9.4 .5-17.7 .6-25.4 .5-27.1 .6-29.2 .5-21.2 .6-3.4 .5 12.6 .6 23.8 .5 27.8 .6 25.4 .5 10.8 .6 5.6 .5-4.4 .6-10.2 .5-12.8 .6-5.8 .5 2.1 .6 10.5 .5 13.1 .6 14.3 .5 14.6 .6 9.3 .5 5.3 .6 2.6 .5 2.9 .6 .9 .5 1.3 .6-1.5 .5 1.6 .6 0 .5-.7 .6 1.4 .5 0 .6-.2 .5 .8 .6-1.5 .5 1.3 .6 .6 .5-.1 .6 .8 .5-2 .6-.2 .5 1.6 .6 .3 .5 1.6 .6-1.4 .5-1.3 .6 1.6 .5-1.5 .6-.6 .5 3.9 .6-2.1 .5 .4 .6-.1 .5 1.2 .6-1.4 .5 .9 .6-2.1 .5-.3 .6 2.7 .5 .1 .6-.9 .5-.3 .6 0 .5-.8 .6 2.1 .5-.8 .6-.1 .5-.1 .6 .7 .5-.5 .6 .2 .5-1.7 .6 1.6 .5 1.6 .6-2.6 .5 .4 .6 1 .5 .1 .6-.3 .5-2.1 .6 2 .5-1.5 .6 .3 .5 1.3 .6-.7 .5 1 .6 2.2 .5-2.2 .6 0 .5-1.5 .6 .3 .5-.4 .6 .5 .5-.5 .6 .4 .5 .5 .6-.7 .5-.4 .6 .1 .5 1.7 .6-.4 .5 .9 .6 .1 .5-1.3 .6 1 .5-2 .6 3.5 .5-1 .6-1.3 .5-.9 .6 1.5 .5-2.1 .6 1 .5 1.5 .6-.6 .5-.5 .6 1.3 .5-1.8 .6 1.2 .5-.7 .6-.3 .5 1.2 .6-1.3 .5 2.7 .6-2.3 .5 2.4 .6-2.8 .5 1.6 .6-1.7 .5-.1 .6 1.4 .5 .5 .6-1.8 .5 2.3 .6-1.9 .5 .9 .6 .2 .5 .3 .6-2.3 .5 3.2 .6-.9 .5-1 .6-.5 .5-.6 .6 .3 .5 1.8 .6-.8 .5-.8 .6 .6 .5 1.9 .6-1.7 .5-.2 .6 1.8 .5-.9 .6-.4 .5-.6 .6-.8 .5 .3 .6 .7 .5 .2 .6 .5 .5 .2 .6-.3 .5 0 .6-1.1 .5-1.1 .6 1.5 .5-.4 .6 .3 .5 .3 .6-.9 .5 .1 .6 1 .5 .2 .6-.8 .5 1.1 .6-.7 .5-.7 .6 .9 .5 1.7 .6-2.3 .5 1.7 .6 .1 .5 .1 .6-2.1 .5 2.6 .6-1.8 .5-.4 .6 0 .5 .8 .6-.5 .5-.3 .6 1.3 .5-1.9 .6-.3 .5 1.6 .6-.1 .5 .3 .6-2.1 .5 1.9 .6-.7 .5 1 .6-3 .5 .8 .6-1.3 .5-2.9 .6-2 .5-2.7 .6-7.4 .5-7.2 .6-5.2 .5-4.2 .6-.3 .5 2.2 .6 7 .5 7.6 .6 3.9 .5 3.4 .6 2.7 .5-.1 .6-4.8 .5-4.4 .6-1.6 .5-.8 .6 1.7 .5 3.4 .6 2.8 .5 2.9 .6 3.5 .5 .9 .6 2.1 .5 .1 .6 3.5 .5-1.6 .6-1.4 .5-.1 .6 .6 .5-1.1 .6 .9 .5 0 .6 1.5 .5-1.3 .6-.3 .5-.5 .6 .1 .5 1 .6-.2 .5 1.2 .6-1.6 .5 1.5 .6-.8 .5-.3 .6-1.9 .5 .5 .6 1.8 .5 .5 .6-1.2 .5 .3 .6-1.2 .5-.2 .6-.5 .5 1.3 .6-.9 .5-1 .6-.6 .5 .1 .6-1.5 .5-3.1 .6-1.7 .5-8.6 .6-12.7 .5-17.9 .6-26.5 .5-31.6 .6-28.5 .5-20.5 .6-.8 .5 15.6 .6 31 .5 26.5 .6 26.9 .5 14.5 .6 6.2 .5-1.7 .6-8.8 .5-12.8 .6-11.9 .5-9 .6 1.8 .5 8.6 .6 16.1 .5 14.9 .6 12.5 .5 10 .6 6.2 .5 3.9 .6 2.2 .5 .3 .6 .4 .5 1.7 .6-1.9 .5 1.2 .6 2.2 .5-3.8 .6 2 .5 1.3 .6-2 .5 3.9 .6-4.7 .5 3.7 .6 .2 .5-.6 .6-1 .5 .5 .6-1.1 .5 1.5 .6-1.8 .5 .8 .6 1.1 .5-2 .6 .6 .5 .5 .6-1.5 .5 2.2 .6-.9 .5-1.9 .6 1.2 .5-.9 .6-.1 .5 .3 .6-1.1 .5 1.1 .6-2.2 .5 .8 .6-2.1 .5-1 .6-4.6 .5-6.1 .6-12 .5-18.2 .6-30.4 .5-41.4 .6-51.1 .5-50.1 .6-34.1 .5-4.2 .6 25.7 .5 46.9 .6 49.1 .5 40.8 .6 29.1 .5 15.6 .6-1.9 .5-13.2 .6-19.4 .5-24.4 .6-17.3 .5-4.6 .6 9.9 .5 25 .6 24.2 .5 24.4 .6 18.3 .5 13.9 .6 7 .5 4.4 .6 .9 .5 2.8 .6-.4 .5 2.3 .6 .6 .5 0 .6 2.2 .5-1 .6 .3 .5-.2 .6-.1 .5 1.3 .6 .3 .5-2.1 .6 2.3 .5-.4 .6 .6 .5-.4 .6-1.4 .5 .1 .6 2.8 .5-1.3 .6-1.5 .5 1.7 .6-.6 .5-1.3 .6-.3 .5 .6 .6 1.8 .5-.3 .6-.1 .5 .5 .6 .3 .5-2.4 .6 1.7 .5-.5 .6-.3 .5 .6 .6 .4 .5-.1 .6-1.1 .5 .9 .6 2.3 .5-2.7 .6-.6 .5 1.8 .6 .3 .5-.1 .6-1.4 .5 1.9 .6-1.6 .5-.3 .6 .5 .5 .4 .6 .8 .5-.1 .6-.6 .5 .9 .6-.7 .5 .7 .6-2.1 .5-.1 .6 2.1 .5-2 .6 1 .5 .2 .6-.3 .5 0 .6 1.7 .5-3.6 .6 3.1 .5 1.3 .6-2 .5-.1 .6 .7 .5 1 .6-2.8 .5 1.2 .6-.3 .5 .7 .6-.4 .5 .5 .6-1 .5 .4 .6-.7 .5-.1 .6 .5 .5-.1 .6-1 .5 2.3 .6-1.9 .5-1.7 .6 1.3 .5-3.3 .6-1.3 .5-3.6 .6-3.3 .5-3.5 .6-3 .5 .2 .6 3.6 .5-.7 .6 5.6 .5 3.5 .6 .9 .5 1 .6 3.4 .5-2.9 .6 .9 .5-3 .6-1.9 .5-.5 .6 .4 .5 1.6 .6 1.1 .5 1.5 .6 1.7 .5 2.3 .6 .3 .5-1.1 .6 .6 .5 1.1 .6-.8 .5 .3 .6-.5 .5 .7 .6 .6 .5 .6 .6-.9 .5 1.9 .6-1.9 .5 3 .6-2 .5-.5 .6-.8 .5-2.1 .6 2.4 .5 .3 .6 1.6 .5-3 .6 3 .5-1.9 .6 .9 .5-3 .6 2.4 .5-.4 .6 1 .5-.6 .6-1.1 .5 1.9 .6-.2 .5 0 .6 .3 .5 .1 .6-1 .5-1.1 .6 0 .5 2.4 .6-.5 .5-.5 .6-.5 .5 .4 .6 .1 .5-.3 .6-.3 .5 2.6 .6-1.8 .5-.7 .6-.6 .5 .5 .6 1.4 .5 0 .6-.8 .5 .2 .6-.3 .5-.7 .6 2.2 .5-.8 .6 1.9 .5-2.9 .6 .6 .5 .9 .6-1 .5-1.1 .6 .4 .5 .9 .6 .2 .5-.5 .6 .8 .5-.2 .6-.8 .5-.5 .6-.6 .5 .3 .6-.1 .5-1.3 .6-.2 .5-1.3 .6-1.6 .5-.3 .6 .9 .5-.9 .6 .4 .5-1.8 .6 .3 .5 .2 .6-.3 .5-1.3 .6 .7 .5 .7 .6-.4 .5 2 .6 1.2 .5-.6 .6 2.9 .5-1.3 .6 .8 .5 .6 .6 .1 .5 1.5 .6 .1 .5 1.9 .6-.6 .5 .2 .6-.5 .5-.9 .6 1.4 .5-.6 .6 1.8 .5-.8 .6 1.6 .5-.8 .6 .1 .5-.5 .6 .1 .5 .4 .6 .3 .5-1.5 .6 1.2 .5 1.9 .6-2.4 .5-.2 .6-.3 .5-.7 .6 2.4 .5-1 .6 .2 .5 1.4 .6 .6 .5-3 .6 1.7 .5-.3 .6-.2 .5 .1 .6-.5 .5 1.5 .6-.9 .5-.2 .6 .8 .5-.3 .6-.4 .5-.2 .6 1.3 .5-1.1 .6-.5 .5-.7 .6 .4 .5-.6 .6 1 .5 .1 .6-2.1 .5 1.7 .6 .5 .5-.7 .6-1.3 .5 1.4 .6-2.7 .5-1.8 .6-1.5 .5-.9 .6-1.1 .5-1.4 .6-1.6 .5-1 .6 1.6 .5 1.5 .6 2.5 .5 .3 .6 3 .5 1.2 .6-.5 .5 .3 .6-1.8 .5-1.2 .6-.1 .5 1 .6-.3 .5-1 .6 2.2 .5-.4 .6 2.6 .5 0 .6-.1 .5 1.6 .6-1.1 .5 .1 .6-.3 .5 1.6 .6-.3 .5 0 .6-.2 .5 1.7 .6-1.7 .5-.2 .6 1.7 .5 .2 .6-1 .5-1.8 .6 1 .5 1.1 .6-.5 .5 1.4 .6-2.6 .5 1.8 .6-1.1 .5 1.7 .6-1.2 .5 .9 .6-1.4 .5-.7 .6 .2 .5 .5 .6-.4 .5 2 .6 .1 .5-.9 .6-1.2 .5 .8 .6-.5 .5 1.9 .6-1 .5 .1 .6-.8 .5-1.5 .6 1.1 .5-.3 .6 1.2 .5-.3 .6-.8 .5 .2 .6 1.6 .5-2.4 .6-.3 .5-.1 .6-1.6 .5-2 .6-2.9 .5-4.6 .6-10.6 .5-6.9 .6-7.7 .5-4.6 .6 .6 .5 5.4 .6 9.3 .5 7 .6 7.2 .5 4.9 .6 2.8 .5 .6 .6 .2 .5-3.1 .6-3.2 .5-4.3 .6-4.6 .5-2.1 .6 .1 .5 3.8 .6 3.3 .5 3.9 .6 4.7 .5 2.8 .6-.5 .5 3.9 .6-1.1 .5 0 .6 .9 .5-1.1 .6-.9 .5 2.1 .6-3.4 .5 .3 .6 .3 .5-2.3 .6 .3 .5-.2 .6 1.2 .5-3.4 .6 .4 .5 .3 .6-.6 .5-1.1 .6 1.6 .5 .1 .6 .8 .5 1.1 .6 .6 .5 .1 .6 .6 .5-.6 .6 1.5 .5 .9 .6 0 .5 1 .6-.4 .5 2.5 .6 .8 .5-1.9 .6 .9 .5-.4 .6 1.5 .5-.6 .6-.2 .5-.2 .6 .4 .5-1 .6 1.6 .5-1.2 .6 1.1 .5-.3 .6 .9 .5-1 .6 1 .5-1.7 .6 1.4 .5-.7 .6 .4 .5-.1 .6 .8 .5-2.6 .6 2.1 .5-1.6 .6 2.4 .5-2.8 .6 .8 .5-.5 .6 2.9 .5-2.6 .6 1.3 .5-.6 .6-1.1 .5 1.3 .6 .9 .5-.7 .6 1 .5-1.2 .6 .4 .5-.4 .6 .7 .5 1.4 .6-1.4 .5-.1 .6-.7 .5-.2 .6 2 .5-2.3 .6 .2 .5 .7 .6-.3 .5 2.2 .6-3.9 .5 2.4 .6 .4 .5-1.7 .6 .5 .5 .9 .6 1.1 .5-2.3 .6-.5 .5 2.2 .6 .5 .5-1.6 .6-1.7 .5 3.2 .6-1.4 .5 1.1 .6-1 .5-.3 .6 0 .5 1.7 .6-.1 .5-3.1 .6 1 .5 2.4 .6-1.9 .5-.8 .6 1.2 .5-.1 .6 0 .5-.4 .6 .2 .5-.1 .6 .6 .5-1 .6 .5 .5 .1 .6 1.3 .5-.8 .6-.5 .5 .6 .6-.1 .5 .6 .6-.5 .5 1.1 .6-.4 .5-1.2 .6-.4 .5 1.2 .6-.4 .5-.5 .6-1.2 .5-.4 .6 1.9 .5 .4 .6 0 .5-1.9 .6 2.1 .5-1.5 .6 .8 .5 0 .6-1.2 .5 .1 .6-1.5 .5 .7 .6-1.2 .5 1.5 .6-1 .5-.2 .6-1.5 .5-2.1 .6-.5 .5-2 .6-.4 .5-1.4 .6-1.9 .5 .6 .6 .2 .5 .4 .6 2 .5 1.8 .6-.7 .5 1 .6-.9 .5 2.4 .6 0 .5-1.5 .6 2 .5 0 .6-1.5 .5 .2 .6-.6 .5 1.8 .6-1.6 .5 1.6 .6 2.7 .5-1 .6 1.1 .5 .1 .6-.4 .5 1.5 .6 .7 .5-1 .6 1.4 .5 1 .6-.1 .5-2.2 .6 .6 .5-.6 .6 2.4 .5-.4 .6 .1 .5-1.3 .6-.3 .5 1.1 .6 .1 .5-.8 .6 .8 .5 .5 .6-.4 .5-1.1 .6-.9 .5 1.6 .6 .4 .5-.3 .6-.2 .5-.2 .6 1.2 .5-.6 .6 .1 .5-.9 .6 .3 .5 .7 .6-1 .5-.2 .6 .8 .5 1.3 .6-.8 .5 1.1 .6-1.4 .5-.1 .6-1 .5 .7 .6 1.8 .5-.9 .6 .3 .5 0 .6-.6 .5-.2 .6 .3 .5 .5 .6-.2 .5 .1 .6-.3 .5-.8 .6 .4 .5-.5 .6 1.7 .5-2.7 .6 1.6 .5 2.3 .6-2.4 .5-.6 .6 .9 .5 1.2 .6-1.3 .5 .7 .6-.4 .5-.4 .6 3.1 .5-2.7 .6-.5 .5 0 .6 .8 .5 0 .6 .4 .5-.6 .6-1.3 .5 1.7 .6-.7 .5 0 .6-1 .5 .8 .6-.1 .5 .6 .6-1.3 .5 1.4 .6 0 .5-1 .6 .4 .5-.2 .6 1.6 .5-3 .6 1.9 .5-1.1 .6 1.1 .5 1.1 .6-1.3 .5 .7 .6-.9 .5 2.5 .6-.9 .5 .2 .6-2.1 .5 .2 .6 1.9 .5-1.1 .6 0 .5 .5 .6-1.4 .5 1.8 .6-.6 .5 .4 .6-1 .5 1 .6-1 .5 1.4 .6 .2 .5-.2 .6-.3 .5 .1 .6-2.9 .5 3.1 .6-1 .5 .4 .6-.4 .5-.9 .6 .7 .5 1.1 .6 .6 .5-1.8 .6-.2 .5 2 .6-2.1 .5 2.6 .6-1.9 .5-.9 .6 1.5 .5 .5 .6-2.9 .5 2.4 .6-1.8 .5 1.3 .6-1.9 .5-1.2 .6 1.6 .5 .2 .6 .9 .5-.3 .6-.8 .5-.7 .6-.1 .5 .5 .6-.2 .5 .7 .6-1.7 .5 2.6 .6 0 .5 2.5 .6-1.4 .5-1 .6 1.1 .5-1.5 .6 .6 .5-1 .6 2.9 .5-.7 .6-1.5 .5 1 .6 .9 .5-.4 .6-.1 .5-1 .6 .2 .5 .6 .6 .8 .5-1.5 .6-.3 .5 2 .6-1.8 .5 1.8 .6-.7 .5 .5 .6 .8 .5-.9 .6 .1 .5-1.5 .6 .2 .5 1.2 .6 .8 .5-.1 .6 .8 .5-1.8 .6 0 .5 .7 .6-.9 .5 0 .6-.9 .5 1.8 .6-1.8 .5 1.4 .6-1.7 .5 2.2 .6-1.8 .5 1.6 .6-2.1 .5 1 .6 1.4 .5-1.7 .6 .8 .5-.5 .6-1.5 .5 2.2 .6 .1 .5-1.3 .6 1.5 .5-1.2 .6-.2 .5 .9 .6-.6 .5 2.6 .6-3.3 .5 2 .6 .2 .5-2.6 .6 .2 .5 2 .6-.9 .5 .8 .6 .6 .5-1.3 .6-.6 .5-1.4 .6 2.5 .5-.9 .6 1 .5 0 .6-1.4 .5 2.7 .6-.6 .5-.2 .6-1.7 .5 .6 .6-.1 .5 .1 .6-.6 .5 1.4 .6-.2 .5 .1 .6-.7 .5 1.5 .6-.9 .5-2.6 .6 1.8 .5 .6 .6 .8 .5-1.1 .6 .1 .5-.4 .6 1.2 .5-1 .6-.1 .5-.1 .6 1.1 .5-1 .6-1 .5 2 .6-1.1 .5 .9 .6 0 .5 .7 .6-.1 .5-1.4 .6 .3 .5-.9 .6 2.5 .5-1.1 .6 .9 .5-1.5 .6-1.5 .5 3.1 .6-1.3 .5 .1 .6-.1 .5 .5 .6-.1 .5-1.8 .6 2.3 .5-1.4 .6 0 .5 1.9 .6-.7 .5-1.1 .6-1.3 .5 1.7 .6 .4 .5-.6 .6-1 .5 .4 .6-.4 .5 1.2 .6 .6 .5 .1 .6-1.5 .5 .8 .6 .3 .5-.9 .6 .3 .5 1.9 .6-1.6 .5 .6 .6-1.2 .5 .4 .6-1.5 .5 1.5 .6 1 .5 .8 .6-.8 .5-.5 .6-.5 .5-.6 .6 .4 .5 .6 .6-1.2 .5 1.5 .6-1.6 .5-.7 .6 .6 .5-.6 .6 .3 .5 2.1 .6-1.1 .5 .3 .6 .8 .5 .1 .6-1.5 .5 1.5 .6-.8 .5-.3 .6 .4 .5-1.7 .6 .6 .5 .6 .6 .6 .5-.9 .6 .2 .5 .9 .6 .4 .5-.6 .6 .5 .5-1.5 .6 .1 .5 .5 .6-.5 .5-.2 .6 1.8 .5-1.6 .6-.6 .5 1.2 .6 1.1 .5-1.5 .6 1 .5-1.4 .6-.1 .5-.2 .6 .5 .5 1.7 .6-2.6 .5 2.4 .6-2.3 .5 .6 .6 .9 .5-.1 .6-.3 .5-1.7 .6 1.7 .5-1.2 .6 3.1 .5-2.4 .6 .3 .5-1.2 .6 .6 .5-.7 .6 1.9 .5-1 .6 .6 .5-1 .6 .1 .5 1.5 .6-1.9 .5-.7 .6 1.8 .5-1.3 .6 .6 .5 1.1 .6-1.5 .5 1.5" stroke="#000000"/>
<path d="M166 1309.8 l.6 0 .5 0 .6 0 .5-.3 .6-.8 .5 1.2 .6 1.2 .5-3.3 .6 2.9 .5-2.8 .6 .5 .5-1.2 .6 4.9 .5-2.6 .6 .2 .5-1.2 .6 2.1 .5-4 .6 2.7 .5 2.7 .6-3.3 .5 .5 .6 .8 .5-1.9 .6 1 .5 1.1 .6-1 .5 .2 .6-.9 .5 .8 .6-.4 .5 1.7 .6-.9 .5-1.3 .6-2.8 .5 4 .6 0 .5-2.2 .6-1.3 .5 1 .6 2.5 .5-2.5 .6 .7 .5 .8 .6 1.3 .5-1.6 .6-.2 .5-.6 .6 2.7 .5-.7 .6-1.5 .5-1.7 .6 .7 .5 1.7 .6-1.6 .5 1.9 .6-.7 .5-.1 .6 .4 .5-.2 .6-1.7 .5 .6 .6 3.3 .5-4.5 .6 .9 .5 1.9 .6-1.6 .5-.9 .6-.7 .5 2.3 .6 .6 .5 .4 .6-1.7 .5 1.2 .6-2.6 .5 1.4 .6-1.1 .5 1.1 .6 .6 .5 .4 .6-2.6 .5 2.8 .6-2.3 .5-.7 .6 1 .5-1.6 .6 1.8 .5 .3 .6-.7 .5 .9 .6-1.1 .5 .3 .6-1.8 .5 1.8 .6-1.2 .5 .5 .6 .4 .5 .3 .6-2.3 .5 0 .6 1.6 .5 .9 .6-.2 .5 .6 .6 .5 .5-1.1 .6-.7 .5-1.3 .6 .1 .5 .5 .6 .9 .5-.1 .6-.3 .5-.3 .6 .9 .5-.5 .6 0 .5 0 .6-1.1 .5-.7 .6 1.9 .5-.2 .6-.8 .5-.3 .6 3.3 .5-3.8 .6 .6 .5 .5 .6-1.8 .5 1.5 .6 2.1 .5-1.1 .6-.5 .5-.1 .6-.6 .5 1 .6-1.5 .5-.4 .6 .7 .5 .9 .6-.8 .5 .4 .6-3.4 .5 4 .6 1.3 .5-1.3 .6-2.1 .5-.7 .6 1.3 .5-1.6 .6 2.1 .5-1.6 .6 1.8 .5 .4 .6-4.3 .5 2.9 .6-1.3 .5-.9 .6 .9 .5 .4 .6 1.5 .5-3.2 .6 3.2 .5 1.1 .6-1.8 .5-.1 .6-.8 .5-1.5 .6 2.1 .5-.2 .6 .3 .5 2.3 .6-2.4 .5-.4 .6 1.4 .5-3.7 .6 .2 .5 .9 .6-.4 .5 1.6 .6-1.3 .5 2.5 .6-.3 .5-1 .6-1.5 .5 1.2 .6 .2 .5-2.4 .6 1.7 .5 .4 .6-.7 .5 1.7 .6-.5 .5-2.6 .6 1.1 .5-1.2 .6 1.7 .5-1.9 .6 2.2 .5-.7 .6 .6 .5-1.4 .6-1.7 .5 4 .6-2.5 .5 1.9 .6-1.3 .5 .3 .6 1.4 .5-1.9 .6 1.2 .5-3.6 .6 2.9 .5-1.5 .6 .1 .5 .1 .6 .4 .5 1.6 .6-4.5 .5 2.3 .6-1 .5 2.3 .6-2 .5 1 .6-1.1 .5 1.3 .6 .4 .5-1.9 .6 .5 .5-1.8 .6 2.1 .5 .6 .6-1.8 .5 2 .6-4 .5 .2 .6 .5 .5 1.1 .6 .5 .5-.1 .6-.1 .5 1 .6-1.6 .5-1 .6-.1 .5 4.2 .6-5.7 .5 2.7 .6 2 .5-1.3 .6-1.7 .5 1 .6 1 .5 .4 .6-2.7 .5 2 .6-.7 .5 1.1 .6 .3 .5-2.3 .6-1.4 .5 2.2 .6 1.7 .5-1.4 .6-.6 .5 2.6 .6-4.3 .5 2.4 .6-1.9 .5 .7 .6 0 .5 1.7 .6-3.1 .5 .4 .6-1.3 .5 2.5 .6-1.2 .5 1 .6-1.9 .5 .8 .6 1.7 .5-1.5 .6 .9 .5-.2 .6-1.1 .5-1.6 .6 3.2 .5-1.1 .6 1 .5-3.8 .6 .4 .5-.7 .6 1.5 .5 2.4 .6-.7 .5-.8 .6 .2 .5 .7 .6-1.3 .5 .8 .6-.4 .5-2.9 .6 2.2 .5 2.1 .6-2.2 .5 .2 .6-.6 .5 .1 .6 1.9 .5-1.7 .6-1 .5-2.7 .6 3.1 .5-1.8 .6 .2 .5 3.2 .6-.2 .5-3.3 .6 3.4 .5-.6 .6-1.6 .5 1.9 .6-3 .5 .4 .6-.3 .5 .3 .6 2.5 .5-2.9 .6 .2 .5 .2 .6 1.4 .5-.8 .6 1.5 .5-2.1 .6-.8 .5 1 .6 .6 .5-1.3 .6 1.4 .5 1.9 .6-3.1 .5 .7 .6 1.6 .5-2.6 .6-.3 .5-.4 .6 1.7 .5 .1 .6-.9 .5 .1 .6 1.5 .5-.6 .6-2.9 .5 1.6 .6 .1 .5 .6 .6-1.2 .5-.7 .6 .2 .5-1.8 .6 2.1 .5-.8 .6 1.3 .5-2 .6 .6 .5-.8 .6-.2 .5 2.1 .6-1.5 .5 1 .6-2.1 .5 1.5 .6-2.4 .5 1.4 .6-.1 .5 1.2 .6-.6 .5-.6 .6 1.2 .5-.9 .6 .3 .5 .1 .6-1.1 .5-.5 .6 .7 .5-1.1 .6 .9 .5 .7 .6-.5 .5-1.7 .6-1.3 .5 1.3 .6-.3 .5 1.4 .6-2.1 .5-.1 .6 .9 .5-1.9 .6 0 .5 1.7 .6-1.1 .5-2.2 .6-2.2 .5-4.2 .6-1.9 .5-6 .6-7.1 .5-10.1 .6-10.5 .5-12.7 .6-12.2 .5-10.4 .6-10.6 .5-7.5 .6 .7 .5 3.9 .6 9.6 .5 12.9 .6 12.1 .5 10.8 .6 12 .5 7.9 .6 6.4 .5 5.5 .6 4.5 .5 5.5 .6-1.8 .5 4.4 .6 .8 .5-1.5 .6 .4 .5-.5 .6 .9 .5 .9 .6-.8 .5 1.3 .6 .2 .5-1 .6-.1 .5-.5 .6 .5 .5-1.9 .6 1.9 .5-.3 .6-1.4 .5 3.7 .6-4 .5 0 .6 1.4 .5-2.8 .6 1.3 .5-1 .6 .6 .5 1 .6 .4 .5 .9 .6-.4 .5 .3 .6-.8 .5-1.4 .6 1.9 .5-2.1 .6-.3 .5 2.6 .6-1 .5-.8 .6 .5 .5 .1 .6-2.9 .5 1.5 .6-1.5 .5 1.5 .6-1.1 .5 2.5 .6-1.2 .5-1.8 .6 .9 .5-1.6 .6 1.5 .5 .5 .6-.4 .5-2.9 .6 1.9 .5 .9 .6-.3 .5 .9 .6-3.1 .5 2.1 .6-1.6 .5 1 .6 .1 .5 .2 .6-1.7 .5 .9 .6-1.8 .5-.4 .6 2.3 .5-.9 .6-2.1 .5 .9 .6 .9 .5 1.8 .6-.7 .5-.4 .6-3.4 .5 2 .6 .6 .5-.2 .6-.1 .5-1 .6 2.4 .5-.5 .6-2.1 .5-1.2 .6 3.7 .5-3.4 .6 2.1 .5 .7 .6-3.6 .5 1.4 .6-.9 .5 .9 .6-.3 .5 1.9 .6-1.8 .5-.9 .6 1.3 .5-1.9 .6-.2 .5 3.1 .6-3.9 .5 .3 .6 .6 .5-1.5 .6-1.5 .5 3.9 .6-2.4 .5 .2 .6 .1 .5-.9 .6-.2 .5 1.4 .6 2.7 .5-2.2 .6-.1 .5-2.9 .6 1.7 .5-1.5 .6 2.3 .5-1.3 .6 .2 .5-.3 .6-.7 .5-1.3 .6 2.6 .5-2.6 .6 .2 .5 1 .6-.7 .5 1.2 .6 .8 .5-1.1 .6-.1 .5-.4 .6 1 .5-3.5 .6 2.7 .5-1.8 .6-.4 .5 1.4 .6-.6 .5 1.1 .6 .6 .5-4.4 .6 2.7 .5 2.4 .6-1.4 .5 .6 .6-1.8 .5-2 .6 .3 .5 2.2 .6 .2 .5-2.2 .6 .4 .5 .6 .6-2.6 .5 1.6 .6 2.4 .5 .6 .6-3 .5 2.3 .6-3 .5-.5 .6-1.9 .5 3.9 .6-1.8 .5 3.3 .6-2.6 .5-.3 .6-2.6 .5 4 .6-2.4 .5 .1 .6-2.7 .5 3.8 .6 0 .5-2.1 .6 .7 .5 .3 .6 .6 .5-1.2 .6 1.9 .5-2.6 .6-.6 .5 .1 .6-2.8 .5 2.1 .6 2.1 .5-1.1 .6-1.5 .5 1.4 .6-3.2 .5 2.1 .6 .8 .5 .1 .6-2 .5 2 .6 1 .5-3 .6 1.3 .5-3 .6-.7 .5 3.1 .6-.9 .5 .1 .6-1.2 .5 .2 .6 1.3 .5 .9 .6-2.5 .5-2 .6 3.5 .5-1 .6-.1 .5-.7 .6 2.5 .5-3 .6 .4 .5-3.1 .6 1.4 .5-.3 .6 .7 .5 .3 .6-1.5 .5 3 .6-3.7 .5 .6 .6 .7 .5-2 .6 2.2 .5-.1 .6-1.3 .5 2.6 .6-2.4 .5 .1 .6-1.7 .5-1 .6 1.2 .5 .2 .6-.3 .5 1.4 .6-4 .5 1.4 .6-1 .5 3.9 .6-2.5 .5-.1 .6-.8 .5 2.4 .6-1.8 .5 .7 .6-2.9 .5 3.9 .6-1 .5 .1 .6 .7 .5-1.8 .6-.1 .5 1 .6-.4 .5-.9 .6 .2 .5-.7 .6 1.4 .5 .2 .6-1.2 .5 2.2 .6-4.3 .5 1.5 .6 2.4 .5-2.8 .6-1.6 .5 3.7 .6-1.1 .5-2.3 .6 2.4 .5-2.4 .6-.4 .5 1.4 .6-.5 .5-.9 .6 .9 .5-.9 .6 1.2 .5-.1 .6 .8 .5-1.5 .6-1.2 .5-.1 .6 1.3 .5 2.1 .6-.9 .5-1.9 .6 1.9 .5-2.7 .6 2.6 .5-1.8 .6 1.4 .5-.3 .6-1.2 .5 .7 .6-1.8 .5 1.2 .6 1.4 .5 3.7 .6-4.3 .5-.9 .6-1.4 .5 2.5 .6-3.4 .5 1 .6 1.4 .5-2 .6 3.4 .5-.6 .6-2.2 .5 0 .6-1 .5-.2 .6 2.3 .5 .2 .6-.4 .5-.1 .6-1.1 .5 1.1 .6-2.3 .5 1.8 .6 1.8 .5-.2 .6-2.3 .5 .2 .6 2.1 .5 .5 .6-4.2 .5 1.4 .6 .8 .5 1.2 .6-2.6 .5 1.9 .6-1.2 .5 3.3 .6-2.4 .5-.7 .6-.3 .5 1.8 .6-.5 .5-2.2 .6 1.7 .5-2 .6 .8 .5-.7 .6 0 .5 .9 .6-.4 .5 2 .6 .3 .5-1.2 .6-1.1 .5 2.5 .6-3.5 .5 .1 .6 3.4 .5 0 .6 .5 .5-1.5 .6-1.2 .5 1 .6 1.4 .5-1.6 .6 .2 .5-.8 .6 .3 .5 2.6 .6-.4 .5-1.9 .6 .1 .5 .8 .6 1.4 .5-2 .6 1.3 .5-2.4 .6 1.2 .5 2.2 .6 .7 .5-2.5 .6 .6 .5 2 .6-1.4 .5-.1 .6 1.4 .5-.3 .6 1.3 .5-.3 .6-1.7 .5 .7 .6 .1 .5-1.5 .6 .6 .5 2.5 .6-3.1 .5 3.3 .6-.8 .5-.5 .6 1 .5 0 .6 1 .5-2 .6 .3 .5 .1 .6 2.7 .5-1.1 .6-2.2 .5 .8 .6-.4 .5 1 .6 .3 .5 2.7 .6-5.1 .5 3.7 .6-.7 .5-1.3 .6 .8 .5-.4 .6 .8 .5 1.3 .6-3.1 .5 3.6 .6-2 .5 2.5 .6-1.3 .5 1.1 .6-.8 .5 .8 .6-1.2 .5-1 .6 1.9 .5 .2 .6 1.8 .5-5 .6 2.3 .5 1.7 .6-2.8 .5 1.4 .6 3 .5-.8 .6-2.7 .5 2.9 .6-.2 .5-.4 .6-.4 .5-.1 .6-1.2 .5 .5 .6 1.7 .5-.7 .6 2.3 .5-2.7 .6-2.5 .5 2.7 .6 .9 .5 .2 .6-.3 .5-1 .6 3 .5-2.6 .6 1.9 .5-1.2 .6-1 .5 3.4 .6-4.8 .5 2.1 .6 1.8 .5-.9 .6 1.5 .5-1 .6-.3 .5 3.4 .6-2.9 .5 .2 .6-1.1 .5 .6 .6 1.8 .5 0 .6-.6 .5-.7 .6 1.8 .5-2.9 .6 1.9 .5 .2 .6-.6 .5 1.3 .6-.9 .5 0 .6 3.4 .5-1.2 .6 .7 .5-1.3 .6 1.3 .5-.1 .6 .7 .5 1.5 .6-3.1 .5 .8 .6-.3 .5-4.1 .6 2.7 .5 2 .6 .9 .5-1.4 .6 2.3 .5 .3 .6-2 .5 2.5 .6 .5 .5-1.4 .6-1.7 .5 3.2 .6-1.9 .5-.1 .6 .8 .5-.7 .6 2.2 .5-.3 .6 .7 .5-.6 .6-1.6 .5 1 .6 1.4 .5-1.5 .6 4.3 .5-3.8 .6-.3 .5 2.3 .6-.3 .5-.9 .6-.1 .5 1 .6 .6 .5 0 .6-1.2 .5 1.1 .6 .6 .5 0 .6-4.6 .5 2.8 .6 .3 .5 .8 .6 .6 .5 1 .6-.2 .5-.9 .6 .3 .5 2.3 .6-2.9 .5 1.3 .6 1.7 .5-1.5 .6-2.9 .5 3.1 .6-.8 .5 .4 .6 1.5 .5-.6 .6-.9 .5 1.6 .6-.5 .5-.4 .6 .3 .5 0 .6-.6 .5-.1 .6 .6 .5-1.1 .6-.4 .5 3.3 .6-1.9 .5 .4 .6-.1 .5 .2 .6 .1 .5 .1 .6-1.1 .5 2.2 .6-1.9 .5 2.2 .6-3.7 .5 1.1 .6 2.6 .5-1.3 .6-.7 .5 1.4 .6-1.8 .5 1.5 .6-2.8 .5 2.2 .6-.2 .5 1.5 .6 .4 .5-2.1 .6 3.1 .5-2.7 .6-1.8 .5-.4 .6 4.9 .5-2 .6-.7 .5-.1 .6-.4 .5 3 .6-1.8 .5 2.4 .6-2.5 .5-2.7 .6 3.9 .5-1.5 .6 .1 .5 2.2 .6-2.3 .5 1.7 .6-1.6 .5-1 .6 1.4 .5-1.5 .6 2.1 .5-.6 .6-1.4 .5 .4 .6-.4 .5-1.5 .6 .9 .5-2.1 .6 .2 .5-3.3 .6-.5 .5-2.6 .6-6.2 .5-7.2 .6-11.9 .5-16.1 .6-26.5 .5-31.1 .6-38.3 .5-46.3 .6-48.3 .5-38.8 .6-28.4 .5-15.3 .6 4.3 .5 14.6 .6 24.2 .5 30.3 .6 35.8 .5 38.6 .6 37.8 .5 34.3 .6 28.5 .5 22 .6 17.8 .5 12.9 .6 6.1 .5 6.8 .6 3.7 .5 3.2 .6 1.6 .5 1.2 .6 .2 .5 2.6 .6 .1 .5-2 .6 2.4 .5-1.2 .6 3.6 .5-2.7 .6 0 .5 .3 .6-.8 .5-.4 .6 1.3 .5-2.4 .6 0 .5-.5 .6-3.3 .5 2.7 .6-1.6 .5 .2 .6-2 .5 2.6 .6 .3 .5-.2 .6 4.7 .5-.9 .6 .1 .5 1.7 .6 2 .5 1.2 .6 .1 .5 1.5 .6 .9 .5-2.8 .6 1.3 .5-.2 .6 1.6 .5 1.9 .6-.8 .5-2 .6 1.1 .5 1.8 .6-1.8 .5 .7 .6 .6 .5-2.6 .6 3.4 .5-.5 .6 .4 .5-1.9 .6 .3 .5 .3 .6 1.1 .5-.1 .6 .1 .5 2.1 .6-.6 .5-2.5 .6 .1 .5 3 .6-2.6 .5 2.1 .6 .3 .5-2.7 .6 .3 .5 .3 .6-1.2 .5-.3 .6 .6 .5 1.4 .6-1.8 .5 .1 .6-.7 .5-1.4 .6 3.1 .5-5.3 .6 1.5 .5 .6 .6-3.6 .5 .7 .6-2 .5-7.3 .6-6 .5-13 .6-14.8 .5-23.9 .6-30.3 .5-35.5 .6-42.2 .5-40.3 .6-37 .5-27.4 .6-8.6 .5 4.1 .6 11.9 .5 24.9 .6 24.8 .5 30.8 .6 31.4 .5 34.1 .6 30.7 .5 25.8 .6 22.2 .5 14.1 .6 16.7 .5 5.6 .6 4.6 .5 5.3 .6 2.7 .5 3.4 .6-.6 .5 2.3 .6-.8 .5 4.4 .6-1.5 .5 2.1 .6-3.3 .5 2.4 .6-1.7 .5 2.2 .6 .3 .5-2.6 .6 .7 .5 .2 .6-.3 .5 1.1 .6-.2 .5-.5 .6 2 .5 .6 .6-2.3 .5 1 .6 .7 .5-.4 .6-.6 .5 1.7 .6-.2 .5-.5 .6-1.6 .5 2.1 .6-1.1 .5-3.6 .6-.9 .5 .2 .6-3.9 .5-.1 .6-1.9 .5-2.2 .6-.4 .5-2.1 .6 1.3 .5-1.2 .6 6.3 .5 .3 .6 1.2 .5 .3 .6 2.3 .5 1.6 .6 .7 .5 .8 .6-1.6 .5 2.2 .6-.8 .5-.6 .6 .1 .5 1.9 .6 .8 .5-3.1 .6 3.6 .5-.5 .6-2.5 .5-.4 .6 .2 .5 .9 .6-2.1 .5-1.4 .6 1.3 .5-3.6 .6 2 .5 .4 .6-2 .5-.5 .6-1.6 .5-1.2 .6-2.5 .5-3.4 .6-2 .5-3.6 .6-4 .5-8.5 .6-16.3 .5-26.5 .6-40.8 .5-61.9 .6-87.3 .5-117.9 .6-139 .5-147.5 .6-131.2 .5-94.6 .6-37 .5 18.4 .6 55.3 .5 67.1 .6 78.4 .5 83 .6 91.9 .5 100.8 .6 96.5 .5 87.1 .6 73.9 .5 55.9 .6 42.4 .5 26.8 .6 18.1 .5 11 .6 1.6 .5 8.2 .6-.1 .5 4 .6-.2 .5 1.7 .6 1.8 .5-3.7 .6 2.3 .5-.4 .6-2.1 .5 3.3 .6-.2 .5 .2 .6 .9 .5 6 .6-3 .5-.3 .6 2.3 .5 1.9 .6 1.1 .5 1.2 .6-.4 .5 2.5 .6-.8 .5-.7 .6 .9 .5 .7 .6 1.6 .5-.3 .6-1 .5 .5 .6 .2 .5 2.1 .6-3.3 .5 1.1 .6 .2 .5-2.3 .6 1 .5-.6 .6-1.5 .5 .2 .6-1 .5-2 .6-4.7 .5-3.8 .6-3.1 .5-11.5 .6-7.5 .5-10 .6-13.1 .5-12.6 .6-14 .5-12 .6-10.1 .5-9.6 .6-3.5 .5-.7 .6 2.6 .5 6.1 .6 6.5 .5 11.8 .6 11.9 .5 11.5 .6 11.1 .5 8.3 .6 13 .5 6 .6 8.2 .5 8.3 .6 1.3 .5 6 .6 2.1 .5 1.5 .6 .5 .5 2.6 .6-.3 .5 2.3 .6 .6 .5-2.8 .6 1.3 .5 .4 .6-.8 .5 .2 .6 1.6 .5-.3 .6-1.6 .5 1.5 .6 1.5 .5-1.9 .6 .6 .5 3.2 .6 0 .5-3.3 .6 .6 .5 2.4 .6-1.6 .5 1.3 .6 .1 .5 1.4 .6-3.4 .5 .5 .6 1.4 .5 2.8 .6-1.3 .5-1.8 .6 2.7 .5 .3 .6-1 .5-.1 .6 .9 .5 .9 .6-1.3 .5 .2 .6-1 .5-.9 .6-1.6 .5 .1 .6-2.5 .5-2.4 .6-1.6 .5-3.9 .6-3.2 .5-6.5 .6-.4 .5-3.5 .6-1.1 .5 .3 .6 3.6 .5 1.3 .6 .3 .5 2 .6 4 .5 2.3 .6 5.4 .5-.9 .6 2 .5 3.9 .6 2.1 .5 1.5 .6 1.7 .5 2.3 .6-2.3 .5 .2 .6-1.2 .5 2.6 .6 .9 .5-1.2 .6 1.8 .5-1.2 .6 1.8 .5-1.2 .6-1.6 .5 .6 .6-.9 .5-.2 .6 2.5 .5 .8 .6 1.3 .5-2.2 .6-.1 .5-1 .6 2.6 .5-.6 .6-1.1 .5 1.6 .6-.1 .5-2.7 .6 3.1 .5-.6 .6-.6 .5 .1 .6 2.6 .5-.1 .6 .4 .5-3.4 .6 .6 .5 2 .6-2.4 .5 .6 .6-1.2 .5 4.4 .6-.8 .5-.7 .6-.2 .5-.6 .6 .1 .5 1.3 .6-1.5 .5 2.3 .6-1.9 .5-.3 .6 2.6 .5-1.6 .6 .9 .5-1.1 .6-2 .5 3.3 .6-2.1 .5 2.9 .6-3 .5-.3 .6 2.6 .5 .3 .6-.3 .5-1.5 .6 2.6 .5-2.7 .6 1.2 .5-.2 .6 .5 .5 1.5 .6-1.6 .5 1.5 .6 .2 .5-2.7 .6 .7 .5 1 .6-.2 .5 1.1 .6-2.5 .5 3.2 .6 .1 .5-1 .6-1.3 .5 1.7 .6-.6 .5 1.4 .6-.7 .5 1.1 .6-1.3 .5 2.3 .6-4.3 .5 1.6 .6 1.8 .5-2.2 .6 2.6 .5-2.1 .6 1.6 .5-1.1 .6 .6 .5 .8 .6-.2 .5-.3 .6 3 .5-2.4 .6-1 .5 2.2 .6 0 .5 .5 .6 .7 .5-3 .6 2.3 .5 .2 .6-1.2 .5 .3 .6-3.7 .5 2.9 .6 2.8 .5-4.1 .6 1.5 .5 1 .6 .4 .5 1.2 .6-3.8 .5 2.1 .6 1 .5-2.5 .6 1.5 .5 2.2 .6-.6 .5-.9 .6-3.7 .5 2.8 .6 .6 .5-1 .6 .1 .5 3.3 .6-4.1 .5-1.5 .6 .7 .5-1.6 .6-1.1 .5-1.2 .6-.7 .5-2.5 .6-3.8 .5-1 .6-1.7 .5-3.3 .6-.3 .5-2.3 .6-3.4 .5 .7 .6 1.6 .5-.3 .6-1.1 .5 2.2 .6-.3 .5 .9 .6 4.3 .5 1.8 .6 2.6 .5 1.6 .6 2.5 .5 .9 .6 2.9 .5 2 .6 .3 .5 2.2 .6-2 .5 1.9 .6 3.2 .5 .9 .6-1.3 .5-.1 .6-1 .5 2.1 .6 .6 .5-2.4 .6 2.5 .5 .1 .6 .1 .5-1.7 .6 2 .5-2.2 .6 3.5 .5-1.4 .6-1.3 .5 2.9 .6-.1 .5-1.9 .6 3.4 .5-3.6 .6 1.7 .5 1.1 .6-3.8 .5 3.8 .6-1.1 .5 .2 .6-1.1 .5 1.7 .6-1.4 .5 .3 .6 .7 .5-.7 .6 3.3 .5-3.1 .6 .9 .5 .7 .6 .5 .5 1.1 .6 .3 .5-1.1 .6 .1 .5 .7 .6 1.2 .5 0 .6-1.1 .5-1.5 .6 5 .5-1.2 .6-.5 .5 .3 .6-.7 .5-.3 .6 .9 .5 .4 .6-.3 .5-.7 .6 1.5 .5 1.2 .6-1 .5 .8 .6-2.2 .5 2.3 .6 .3 .5-1.1 .6-.4 .5 2.5 .6-1.2 .5 1.6 .6-.9 .5 1.3 .6-1 .5-1.2 .6 1.8 .5-.2 .6 1.2 .5-1.1 .6 .2 .5 1.5 .6 .4 .5-.3 .6 .4 .5-.6 .6 .5 .5 .2 .6-.4 .5-.3 .6 .2 .5 2.6 .6-2.6 .5-.2 .6 0 .5 .4 .6 .4 .5-1.4 .6-.9 .5 2.6 .6-2 .5 2.2 .6-.1 .5 1.2 .6 .7 .5-1.4 .6-.9 .5-.7 .6 .6 .5 1 .6-2.3 .5 2.4 .6 0 .5 .8 .6-1 .5 .6 .6-.9 .5 .4 .6-1.4 .5 2.2 .6 1.6 .5-1.4 .6 .3 .5-1.5 .6 2.8 .5-2.4 .6 1.8 .5-.7 .6-1.1 .5 2.2 .6-1 .5 .2 .6 .4 .5-.5 .6-.3 .5 1 .6-.9 .5 .5 .6-.8 .5-.8 .6 .9 .5 .1 .6 .5 .5 1.2 .6-3.4 .5 1.8 .6-3 .5 .7 .6-.1 .5-2.8 .6-.6 .5 1 .6-1.3 .5-1.5 .6-1.9 .5 2.3 .6-3.2 .5-1 .6 3.2 .5-.5 .6 .1 .5 3 .6 .3 .5 1.9 .6 .9 .5-.2 .6 3.2 .5 0 .6-.6 .5 .8 .6 2.3 .5-1.1 .6 .7 .5 .8 .6-.4 .5-1.7 .6 2.5 .5 .4 .6 0 .5 .9 .6-1.3 .5 .5 .6 1 .5-2 .6 2.3 .5 0 .6-1 .5 1.2 .6-1.1 .5-1.8 .6 2.2 .5-.9 .6 .2 .5-.3 .6 1.3 .5-.9 .6-1.4 .5 1.3 .6 .2 .5-1.6 .6 .3 .5-.1 .6-.3 .5 .9 .6 .6 .5 .8 .6-.9 .5-.5 .6-.2 .5-.3 .6-2.5 .5 0 .6-2.2 .5-3.4 .6-5 .5-6.9 .6-9.4 .5-13.8 .6-13.6 .5-17.9 .6-17.3 .5-14.8 .6-9.7 .5-4.7 .6 3.5 .5 5.6 .6 8.1 .5 8.5 .6 10.9 .5 2.6 .6 9.1 .5 9.1 .6 7.3 .5 12.6 .6 10.3 .5 8.3 .6 9.4 .5 4.3 .6 3.1 .5 4.6 .6 1.1 .5 .4 .6 1 .5 4.5 .6-2.6 .5 .9 .6-.4 .5 1.1 .6-.2 .5 0 .6-.7 .5-.1 .6 .9 .5 1.2 .6 2.1 .5-1 .6 .9 .5-1.3 .6-.6 .5-1.2 .6 1.5 .5-2.2 .6 2 .5 2.2 .6-1.3 .5 .9 .6-1.6 .5-1 .6 1.1 .5 .1 .6 1.8 .5 .9 .6-2.9 .5 .5 .6 .3 .5-.2 .6-.9 .5 1.5 .6 .4 .5 .1 .6-1.7 .5 1.2 .6-1.6 .5 2.9 .6-2.1 .5 .9 .6-.1 .5-.1 .6-.5 .5-.7 .6 3.8 .5-1.5 .6 .1 .5 2 .6-2.3 .5 .7 .6-.5 .5 1.3 .6-.7 .5-.1 .6-.6 .5 .6 .6 1 .5-3.4 .6 2.2 .5-.3 .6 .2 .5-1.7 .6 2.9 .5-1.6 .6 .7 .5-.3 .6-1.2 .5 1.4 .6-1.4 .5 1 .6 .7 .5 .4 .6 .1 .5-.2 .6 2.5 .5-1.8 .6-1.7 .5 .7 .6 0 .5 .5 .6-.4 .5-.2 .6 2.7 .5-1.6 .6-.4 .5 .1 .6 .1 .5 1.7 .6-.9 .5 .7 .6-4.4 .5 3.7 .6 .8 .5 1 .6-2 .5-1.8 .6 2.4 .5-1.2 .6-1.2 .5 1.2 .6 1.8 .5 .2 .6-.5 .5-1.8 .6 3.8 .5-3.9 .6 1.1 .5-1.4 .6 2.9 .5-1 .6 .5 .5-1 .6-.3 .5 .1 .6-2.4 .5 2.6 .6-.6 .5-2.1 .6-.6 .5-1 .6-.4 .5-3.2 .6-2.9 .5-3.4 .6-4.2 .5-2.4 .6-2.7 .5-3.7 .6-2.6 .5-1.7 .6-2 .5-1 .6 .3 .5 .2 .6 1 .5 2.1 .6-.4 .5 5.3 .6-.3 .5 4.8 .6 1.8 .5 3.9 .6 1.6 .5 1.6 .6 4.5 .5 1.2 .6 1.9 .5 1.6 .6 2.3 .5 .9 .6 .3 .5-1.1 .6 1.8 .5 .9 .6 2.2 .5-1.3 .6-.2 .5 1.5 .6-1.2 .5 .2 .6 .3 .5-1.6 .6 2.6 .5-.5 .6-.6 .5-.8 .6 1.4 .5 1.4 .6-2.1 .5-.4 .6 1.6 .5-2 .6-.6 .5 1.9 .6-.2 .5 .5 .6-.3 .5 1 .6-.5 .5-.4 .6 .2 .5 1.2 .6 .3 .5 0 .6-.1 .5-4.2 .6 2.5 .5 .7 .6 .6 .5-1.9 .6 3.2 .5-1.1 .6-1 .5 .9 .6-.5 .5-.4 .6 1.3 .5-1 .6-1 .5 .9 .6 .5 .5-.9 .6 2.4 .5-2.4 .6 3 .5-.9 .6-1.9 .5 1.1 .6 1.1 .5-1.4 .6-1 .5 1.4 .6 1.9 .5-3.5 .6 2.1 .5-.6 .6-.1 .5-.2 .6 .1 .5 1.4 .6-.5 .5-1.6 .6 2.6 .5-2.9 .6 2.1 .5-.5 .6 1 .5-.8 .6 .7 .5-1.1 .6 1.1 .5-.7 .6 1.9 .5-2.9 .6 1.9 .5-.7 .6-.3 .5-.7 .6 1 .5-1.9 .6 .1 .5 2.1 .6-2.3 .5 3.1 .6-1.8 .5 .6 .6-.2 .5 .4 .6-.7 .5-.1 .6 .3 .5 1.2 .6 .1 .5 .1 .6-.9 .5-.6 .6-1.5 .5 2.4 .6 .2 .5-1.2 .6 1.2 .5 .5 .6-1.2 .5 1 .6-.8 .5-2 .6 1.3 .5 0 .6 1 .5-1.4 .6 .4 .5-.5 .6 1 .5 .1 .6 .9 .5-.2 .6-.6 .5 .1 .6-.1 .5 0 .6 1.4 .5-4 .6 2.3 .5 .5 .6 .9 .5-2.3 .6 1.5 .5 .5 .6-1.3 .5-1.5 .6 1.6 .5-.8 .6 1.8 .5-1.5 .6 2.7 .5-1.6 .6-1 .5 .3 .6-.6 .5 1.6 .6 1.1 .5-1.7 .6 1.1 .5-1.9 .6 1.3 .5 2 .6-3.7 .5 2.7 .6-.1 .5-3 .6 .4 .5 .5 .6 2 .5-1.4 .6 .3 .5 .9 .6-.6 .5 .1 .6-.5 .5 1.4 .6-1.9 .5 2.5 .6-2 .5-.5 .6 1.5 .5-.2 .6-2.4 .5 2.2 .6-1.5 .5 .5 .6 1.6 .5-1.6 .6 1.2 .5-.7 .6 2.3 .5-2 .6-1 .5 0 .6 .3 .5 1 .6-.1 .5 1 .6-.8 .5 0 .6 .2 .5-.4 .6 .4 .5 .5 .6 0 .5-1.3 .6-1.2 .5 1 .6 1.1 .5-2.7 .6 2 .5 .9 .6-1 .5-.5 .6 2.9 .5-.4 .6-1.6 .5 1.6 .6 0 .5-2.4 .6 3.8 .5-3.6 .6 .7 .5-.8 .6 1.2 .5-1.4 .6 1.3 .5 1.1 .6-.8 .5-.5 .6 1.8 .5-2.4 .6 1.9 .5-1.2 .6 .5 .5-.2 .6 .1 .5-.2 .6-.7 .5 .2 .6 1.1 .5-.6 .6-1 .5 .4 .6 .1 .5 .6 .6 .2 .5-.1 .6-.7 .5 .7 .6-1.4 .5-1.5 .6 2.8 .5-1.6 .6 .7 .5-.3 .6 1.8 .5-1.8 .6 1.4 .5-.8 .6-.7 .5-.4 .6 2 .5-.1 .6 .3 .5 1 .6-1.6 .5 0 .6-.5 .5 .2 .6-.6 .5-.6 .6 2.8 .5-3.9 .6 2 .5 0 .6-.4 .5-1.3 .6 .6 .5-.4 .6-.9 .5 .8 .6-.7 .5-.5 .6 .8 .5-2.1 .6 .9 .5-1.8 .6 0 .5-1.8 .6-2 .5-4.7 .6-5.5 .5-8.9 .6-12.2 .5-18.3 .6-24.4 .5-31.9 .6-33.4 .5-35.6 .6-29.7 .5-17.3 .6-4 .5 9 .6 19 .5 24.5 .6 18.6 .5 13.5 .6 12 .5 1.4 .6 1.5 .5 5.4 .6 8 .5 16.6 .6 14.4 .5 18.5 .6 18.3 .5 14.1 .6 13.7 .5 5.7 .6 6.8 .5 4.9 .6 2.9 .5 2.1 .6 .4 .5 2.6 .6-2.1 .5 1.1 .6 1 .5-.8 .6 .3 .5 0 .6 0 .5-.2 .6 .7 .5-.9 .6 2 .5-1.8 .6 3.6 .5-.2 .6-.5 .5-1.2 .6-.4 .5 1.8 .6-.9 .5 .3 .6-1.2 .5 1.7 .6-1.8 .5 .9 .6-1.8 .5 .9 .6 1 .5-1.1 .6-.2 .5 .7 .6-1.3 .5 .4 .6-4.5 .5 1.5 .6-1.8 .5-4.1 .6-2.1 .5-.7 .6-4.7 .5-2.5 .6-1.6 .5-3.3 .6-1 .5-2.3 .6 .9 .5 1.3 .6 .2 .5-1.1 .6 4.1 .5 .8 .6 .5 .5 3.5 .6-1.6 .5 5 .6-.7 .5 3.9 .6 .3 .5 .6 .6 3.1 .5 1.9 .6 1.6 .5 1.7 .6-.8 .5 2.1 .6 .9 .5-.4 .6-.3 .5 .3 .6 1.8 .5 .2 .6-1.4 .5-.4 .6 2.5 .5-2.6 .6 1.7 .5-.9 .6-.9 .5 1.9 .6-.3 .5 1.6 .6 .8 .5-2.3 .6 1.1 .5 .1 .6-1.5 .5-.3 .6 2.4 .5-1.9 .6 .4 .5-.3 .6 .2 .5-.4 .6 1.2 .5 .5 .6-1.5 .5-.9 .6 1.3 .5-1.4 .6 .8 .5 1.8 .6 1 .5-1.8 .6-1.4 .5 1.8 .6-2.9 .5 1.5 .6 2.1 .5-.7 .6-2 .5-.3 .6 2.4 .5-.9 .6-.5 .5 1 .6-.9 .5-1.3 .6 2.6 .5-1.4 .6-.3 .5-.3 .6 1.5 .5-1 .6 1.3 .5-.8 .6 1.3 .5-1.4 .6-.2 .5-1.3 .6 .8 .5 1.8 .6 2.2 .5-4.1 .6 .2 .5 1.3 .6 .2 .5-1.1 .6 .7 .5-1.6 .6 1.2 .5 1.2 .6 .7 .5-1.7 .6-.1 .5 .7 .6 .6 .5-.6 .6-1.1 .5 1 .6 .6 .5-1.6 .6-.6 .5 1.8 .6-.2 .5 .6 .6-.8 .5-.7 .6 .2 .5-.6 .6 .1 .5 .4 .6 .1 .5 1.5 .6-2.2 .5 1.1 .6-.5 .5 1.9 .6-1.1 .5-.6 .6 1.1 .5-.7 .6-.5 .5 1.9 .6-.8 .5 .9 .6-.5 .5-.4 .6-.6 .5-1.1 .6 1.7 .5-.6 .6 .5 .5-.6 .6-.7 .5-.3 .6 1.6 .5 .5 .6-1.5 .5 .7 .6 .8 .5-2.1 .6 .4 .5-.7 .6 2 .5-.9 .6-.8 .5-1.2 .6 1.2 .5 .8 .6-1.6 .5-.6 .6 .4 .5-2.6 .6 0 .5-.8 .6-3 .5-2 .6-1.2 .5-2.7 .6-2.6 .5-2.1 .6-2.2 .5-3.1 .6-1.2 .5 .2 .6 .4 .5 .6 .6-1.3 .5 2.8 .6 .8 .5 .4 .6 1.7 .5 1.4 .6 2 .5-1.4 .6 2.8 .5 .8 .6 1.4 .5 2.8 .6 1.2 .5-.3 .6 2 .5 1.7 .6-.5 .5 3 .6-.2 .5 .7 .6 .6 .5 1.6 .6-1.5 .5-.3 .6 1.9 .5-2.3 .6-.2 .5-1.2 .6 1.8 .5-1.6 .6-1.4 .5-3.3 .6-5.9 .5-10.3 .6-15.2 .5-19.7 .6-25 .5-22.8 .6-18.8 .5-2.3 .6 12.1 .5 24 .6 20.8 .5 20.6 .6 11.7 .5 1.1 .6-3.8 .5-11.6 .6-7.7 .5-6.3 .6 3.9 .5 8.7 .6 11.8 .5 14.1 .6 9.9 .5 6.8 .6 4.9 .5 2 .6 2.8 .5 3 .6-2.1 .5 1.4 .6-.6 .5 1.4 .6-.1 .5-.5 .6-1.3 .5 1.3 .6 1.7 .5-1.2 .6 .8 .5-.9 .6-1.2 .5 2.2 .6-.1 .5-.8 .6 .3 .5 .6 .6-.7 .5 .9 .6-.5 .5-2 .6 2.1 .5-.4 .6-.1 .5 1.1 .6-.8 .5 1 .6 .6 .5-.9 .6-1.5 .5 .7 .6 1.6 .5-1.1 .6-.4 .5 .6 .6 .6 .5-.2 .6 .4 .5-1.3 .6 .5 .5 0 .6 .3 .5-1.9 .6 1.7 .5-1 .6 2.6 .5 .1 .6 .2 .5-.8 .6-1.2 .5 1.4 .6-1.1 .5 .8 .6-1.4 .5 .3 .6 1 .5 1.3 .6-1.7 .5 2.2 .6 .4 .5-3.7 .6 1.2 .5-.8 .6 .7 .5-.3 .6 .5 .5 .9 .6 0 .5-.6 .6-.2 .5 .1 .6 .1 .5 .4 .6-.5 .5 .5 .6-1.7 .5 2 .6 .9 .5-1.5 .6-1.4 .5 2.6 .6-1.6 .5-2.4 .6 2.6 .5 .7 .6-.1 .5 .8 .6-.6 .5-.4 .6-1.9 .5 .8 .6 1.2 .5 .5 .6-1.6 .5 .4 .6 1 .5-2.2 .6 0 .5 1.6 .6 .5 .5-.7 .6-1.6 .5 2.1 .6-1.2 .5 1.8 .6-.7 .5 .4 .6 .3 .5-1 .6 1.2 .5 .4 .6-.7 .5 .8 .6-1.8 .5 1.5 .6-.6 .5-1.2 .6 .9 .5-.4 .6-.1 .5 .6 .6 .9 .5-1.2 .6 .4 .5-1.5 .6 1.5 .5 1 .6-.4 .5-.3 .6-.9 .5-.4 .6 .8 .5-1.1 .6 .1 .5 2 .6-1.7 .5 2.4 .6-2.9 .5 1.7 .6-1.5 .5 1.2 .6-1.1 .5 1 .6-.2 .5-.3 .6 .9 .5 .9 .6-1.9 .5 1.3 .6-.7 .5-.1 .6 2 .5-4 .6 1.3 .5-1 .6 1.3 .5 .1 .6 3.7 .5-3.2 .6 1.3 .5-.5 .6-1.6 .5 .8 .6 1.1 .5-1.5 .6 0 .5 .3 .6-1.9 .5 .6 .6 .9 .5 .2 .6-1.5 .5 .5 .6 0 .5-.2 .6 .6 .5-.9 .6-.6 .5-2.6 .6-1.8 .5-2.3 .6-7.2 .5-5.6 .6-9.3 .5-8 .6-3.5 .5-1.1 .6 4.9 .5 7.9 .6 8.6 .5 8.8 .6-.5 .5 3.1 .6-1.3 .5-1.8 .6-4.9 .5-5.1 .6 2.3 .5-.9 .6 4.3 .5 3.1 .6 4.3 .5 3.8 .6 3.4 .5 1.4 .6-.5 .5 1.4 .6-.6 .5 .6 .6 .1 .5 .5 .6-1.1 .5 .5 .6 .3 .5-.1 .6-.8 .5 2.3 .6-2 .5 1.1 .6-.5 .5 .9 .6-3.1 .5 3.8 .6-2.1 .5-.9 .6 1.2 .5 1.9 .6-1.6 .5-1.7 .6 .7 .5 1.5 .6-2.5 .5 1 .6-.2 .5 2.1 .6-2.3 .5 1.3 .6-2 .5-.4 .6 1.3 .5-.9 .6-3.1 .5 .4 .6-3.2 .5-6.6 .6-7.6 .5-11.2 .6-13.6 .5-12 .6-7.5 .5 .6 .6 6.7 .5 13 .6 10.9 .5 11.4 .6 6.2 .5 1.4 .6 .4 .5-3.1 .6-6.2 .5-7.8 .6-.5 .5-.1 .6 4.2 .5 5.8 .6 6.9 .5 6.6 .6 3.1 .5 1.6 .6 1.2 .5 1 .6 1.3 .5 1.4 .6-2.6 .5 1.1 .6-.3 .5-.3 .6 1.1 .5 .1 .6-1.8 .5 .3 .6 2 .5-.8 .6 .1 .5-1 .6 0 .5 .7 .6-.9 .5-.7 .6 .9 .5 .7 .6-1.9 .5 1.7 .6-.5 .5-1.7 .6 .6 .5-.4 .6 .3 .5-.3 .6-2.2 .5-.5 .6 1.6 .5-1.5 .6-.6 .5-1 .6-.1 .5-3.9 .6 .2 .5-4.3 .6-2.9 .5-6.9 .6-16.6 .5-24.4 .6-45 .5-68.6 .6-93 .5-110 .6-103.7 .5-66.4 .6-3.9 .5 59.9 .6 98.8 .5 109.4 .6 87.6 .5 58.5 .6 24.9 .5-4.1 .6-28.7 .5-46.7 .6-46.6 .5-37 .6-6.3 .5 25.7 .6 49.5 .5 55.9 .6 51.1 .5 38 .6 25.8 .5 16.2 .6 8.7 .5 5.9 .6 1.2 .5 1 .6 2.2 .5 2.3 .6-1.1 .5 1.2 .6 .2 .5 1.2 .6 .3 .5-.6 .6 .9 .5 1.3 .6 .4 .5 .1 .6 .2 .5-.9 .6 .1 .5 1.4 .6-1.8 .5 1.2 .6-1.5 .5 1.4 .6-.2 .5-.3 .6 1.7 .5-1.1 .6 .4 .5 .2 .6-.3 .5 2 .6-1.7 .5 .7 .6-1.3 .5 .9 .6 .2 .5 0 .6-.2 .5 .7 .6 1.4 .5-1.5 .6 0 .5-.1 .6 2.6 .5-.7 .6-.9 .5 .1 .6-1.2 .5 .6 .6 .3 .5 0 .6-.8 .5 .1 .6 1.2 .5-.2 .6-2.1 .5 2 .6 1.1 .5-1.7 .6 .8 .5-1.4 .6 2 .5-1.7 .6 0 .5 .8 .6 2.5 .5-2.7 .6-.5 .5 1.5 .6-.1 .5 1.3 .6-2.6 .5-.3 .6 1.2 .5 .6 .6 0 .5 .7 .6-2.3 .5 .6 .6 .7 .5 .9 .6-.4 .5-.8 .6-.5 .5 1.7 .6 0 .5 1.6 .6-2.7 .5 1.5 .6-2.7 .5 .3 .6-.8 .5-1 .6-2.4 .5-2.6 .6-3.3 .5-4.6 .6-2.9 .5-3.2 .6 0 .5 3.6 .6 2.8 .5 4 .6 3.5 .5 2.7 .6 1.8 .5-1 .6 .9 .5-1.1 .6-2.3 .5-3.1 .6-1.9 .5 1.4 .6 2 .5 2.7 .6 1.3 .5 1.7 .6 3.1 .5-1 .6 2.2 .5 .2 .6-1.8 .5 1.6 .6-.7 .5-.3 .6-.7 .5 .3 .6 1.8 .5-.7 .6 .7 .5-1.2 .6 .7 .5 .1 .6-1.1 .5-.1 .6 1.9 .5-.2 .6-1 .5 .8 .6 .7 .5 1.1 .6-2.4 .5 1.3 .6 1.4 .5-1.8 .6 1.2 .5-3.5 .6 3.5 .5-1.2 .6-1.7 .5 2.4 .6 .3 .5 .1 .6 0 .5-1.1 .6-.6 .5 .3 .6 .4 .5 .4 .6-.8 .5 .5 .6 .7 .5-.4 .6 1.7 .5-.1 .6-2.9 .5 .5 .6-.6 .5 .1 .6 1.5 .5-1.3 .6 0 .5 .7 .6 .9 .5-1 .6 0 .5 1.1 .6-.4 .5 0 .6 .5 .5-1.8 .6 1.1 .5-.7 .6 1.4 .5-.2 .6-1.6 .5 2 .6-2.2 .5 2 .6-.9 .5-1.1 .6-.3 .5 .6 .6 .1 .5-.7 .6 .9 .5-2 .6 1 .5-.2 .6-1.9 .5 1.7 .6-1.6 .5-1.3 .6 1.4 .5 .3 .6 .9 .5-1.3 .6 1.8 .5 .1 .6-.1 .5 .4 .6-.6 .5-.6 .6 1.4 .5 .5 .6-.4 .5-.2 .6-.9 .5 2.2 .6-.1 .5-1.3 .6 1.3 .5 .7 .6-.6 .5 .8 .6 .1 .5-1.9 .6 1 .5 .8 .6 .4 .5 .5 .6-3 .5 1.7 .6 .7 .5 .5 .6 .4 .5-2.3 .6 .5 .5-.6 .6 1.7 .5-1.9 .6 2.2 .5-.2 .6-.4 .5-2.3 .6 1.3 .5 1.3 .6-1.9 .5 1 .6 .1 .5 .9 .6-.5 .5 0 .6-.6 .5 .4 .6-.2 .5 .8 .6-.8 .5 1.1 .6-2.5 .5 2.6 .6-1.2 .5 1.1 .6-.9 .5 .7 .6 .5 .5-1.8 .6 .5 .5-.2 .6 .3 .5-1.7 .6 1.3 .5-.2 .6-.7 .5 .2 .6-1.8 .5 1.6 .6-2.5 .5-1 .6-5.2 .5-3.3 .6-1.2 .5-2.9 .6 2.2 .5 1.3 .6 3.2 .5 3.4 .6 2.2 .5 3.2 .6-.2 .5-1.6 .6 1.6 .5-3.1 .6-.1 .5-2.5 .6-.7 .5 1.7 .6-1 .5 1.1 .6 1.6 .5 1.7 .6 2.7 .5-1.5 .6 .5 .5 1.9 .6-1.7 .5 1.2 .6 1.4 .5-1 .6-.4 .5-.2 .6-.1 .5 .3 .6 .7 .5 1 .6-.3 .5-1.3 .6-.1 .5 1.2 .6-2.2 .5 1.3 .6 .1 .5-.7 .6 .1 .5 1.2 .6-1.8 .5 .7 .6 .2 .5 .7 .6-1.3 .5 2.2 .6-1.3 .5 .1 .6-.1 .5-.3 .6-.2 .5 1.8 .6-.8 .5-.3 .6 1 .5-1.5 .6 1.2 .5-.6 .6-.8 .5 1.4 .6-2 .5 1.9 .6-1.4 .5 1.1 .6 .7 .5-.8 .6-1.2 .5 .3 .6-.8 .5-1.7 .6-1.7 .5-1.8 .6-3.9 .5-7.7 .6-4.9 .5-5 .6-3.4 .5 0 .6 6.1 .5 4.1 .6 7.7 .5 5.9 .6 .2 .5 3.9 .6 .5 .5-.7 .6-2.6 .5-2.2 .6-3.9 .5-1.4 .6-1.2 .5-.6 .6 2 .5 3.5 .6 3.5 .5 2.7 .6 1.8 .5 1.4 .6-.5 .5-.8 .6 3.1 .5 .8 .6-2.3 .5 .7 .6 .9 .5 .6 .6-.2 .5 .6 .6-1.1 .5 .4 .6 .1 .5-.7 .6 1.4 .5-.5 .6 .4 .5-1.2 .6 1.3 .5-1.8 .6 1.3 .5-2.6 .6 1.4 .5 1.5 .6-1 .5 .6 .6-1.5 .5 2.7 .6-.8 .5-.5 .6 .4 .5 0 .6 .9 .5-1 .6-1.4 .5 1 .6 1.4 .5-.6 .6-.9 .5 1 .6-.5 .5 .5 .6-1.9 .5 .6 .6 1.4 .5-.8 .6 .6 .5 1.4 .6-2 .5 .5 .6-.7 .5 0 .6 .5 .5-1.2 .6-.5 .5 3 .6-1.3 .5 1.1 .6-.9 .5 .1 .6 .4 .5 .1 .6-1.6 .5 2.1 .6-1.9 .5 1 .6 2.1 .5-2.2 .6 1.4 .5-1.7 .6 .8 .5-.4 .6 .3 .5-1.1 .6 0 .5 1.1 .6-1.7 .5 .7 .6 1.3 .5-1.1 .6-.2 .5-.2 .6 1.1 .5-.5 .6 .5 .5-.3 .6 1.8 .5-2 .6-1.3 .5 1.8 .6-.1 .5 .2 .6-1.5 .5 2.3 .6-1 .5 0 .6-1.3 .5 1.8 .6-.5 .5 1.3 .6-1.5 .5-.7 .6 1.1 .5-.8 .6 1.1 .5-1.3 .6 .9 .5-.1 .6 .2 .5-.4 .6-.3 .5 .7 .6-.5 .5 .7 .6-.4 .5-1.7 .6 1.9 .5 1.2 .6-.9 .5 .3 .6-.1 .5-.8 .6-.8 .5 1.9 .6 .2 .5-.4 .6-.1 .5 0 .6-.4 .5 .3 .6-.3 .5 .3 .6-1.1 .5 .3 .6 1 .5-.8 .6-1.7 .5 2.1 .6-2 .5 3.5 .6-1 .5 0 .6-1.2 .5-.4 .6 .7 .5 .2 .6-.7 .5 .7 .6 .4 .5-.3 .6-1.6 .5-1.3 .6 1.3 .5-1.2 .6 0 .5-.2 .6-1.4 .5-2.8 .6-1 .5-1.2 .6-2.7 .5-.7 .6 .1 .5-.3 .6 .5 .5 1.1 .6 2.1 .5 1 .6 2.4 .5 0 .6 2 .5 0 .6-2.2 .5 1.6 .6-1.7 .5 1 .6-1 .5-.5 .6 .9 .5-.5 .6 1.5 .5 .9 .6 .4 .5 1.3 .6-.4 .5 1.9 .6-1.1 .5 1.9 .6 .2 .5 .3 .6-.9 .5 3.1 .6-2.6 .5 .3 .6-.7 .5 1.9 .6-1.6 .5 1.2 .6-1.5 .5 1 .6-.5 .5 1.1 .6-1 .5-.5 .6 1.1 .5-1.3 .6 .2 .5 1.4 .6-2.2 .5 2.2 .6-.9 .5-.4 .6 1 .5 .3 .6-1 .5 .3 .6 .9 .5-.1 .6-.6 .5-.6 .6-.1 .5 .3 .6 1 .5 0 .6-.3 .5 .9 .6-1.3 .5-.1 .6 0 .5 1.9 .6-3.3 .5 2 .6 .1 .5-.3 .6 1.9 .5-.9 .6-.4 .5-1.3 .6 1.1 .5-.7 .6 .4 .5 .1 .6-.5 .5 .9 .6 .8 .5-.5 .6-.6 .5-1.8 .6 2.5 .5 0 .6-1 .5-.2 .6 .9 .5-1.2 .6 1.3 .5-1.5 .6 .1 .5 .8 .6-1.2 .5 1.2 .6 .5 .5-1.5 .6 1.8 .5-1.2 .6 .9 .5-.2 .6-.6 .5 0 .6-1 .5 .8 .6 0 .5 2 .6-.5 .5-2 .6 1.8 .5-.5 .6-.4 .5 .7 .6 .2 .5-1.1 .6 .3 .5 .4 .6-1 .5 1 .6-.2 .5-.5 .6-.1 .5 .9 .6 .5 .5-.4 .6-1 .5 1.3 .6-.5 .5 .4 .6 .5 .5-1.7 .6 .6 .5-.3 .6-.3 .5 2.4 .6-.9 .5-2.2 .6 1.8 .5-.8 .6 1.4 .5-.8 .6-.2 .5 .2 .6 .2 .5-.3 .6-.2 .5 .1 .6 .5 .5-1.3 .6 .9 .5-.1 .6-.3 .5 .9 .6-1.6 .5 .7 .6-.5 .5 1 .6-.9 .5 .3 .6 .1 .5-1.9 .6 1.5 .5-1.3 .6 .2 .5-.2 .6 .5 .5-.3 .6 .6 .5-1.3 .6-.6 .5 .1 .6 1.1 .5 1 .6-.8 .5-.5 .6 1 .5 .3 .6 .1 .5-.4 .6-1.3 .5 1.8 .6 1.5 .5-.6 .6-1.9 .5 1.9 .6-1.4 .5 3.1 .6-1.4 .5-1.1 .6 1.6 .5-1.2 .6 1.1 .5-.4 .6-1 .5 1.5 .6-1.6 .5 2.2 .6-1 .5-.9 .6-.6 .5 2.7 .6-.1 .5-2.2 .6 2.4 .5-1.2 .6-.3 .5 .1 .6-.1 .5 1.3 .6-1 .5-1.6 .6 3.2 .5-1 .6-1.6 .5 .6 .6-.4 .5 .8 .6 .3 .5-.2 .6-.6 .5-.2 .6 1.4 .5-.8 .6 1.9 .5-2.5 .6 1.3 .5-.6 .6-.6 .5 1.7 .6-1 .5-.8 .6 .5 .5 1 .6-1.8 .5 2.1 .6-.5 .5-.8 .6 1.3 .5 .4 .6-1 .5-.3 .6 1.3 .5-.2 .6-2 .5 .6 .6 0 .5-.2 .6-.8 .5 1.9 .6-.7 .5 .1 .6 1 .5-1.6 .6 .4 .5 .3 .6-.6 .5 .3 .6 .7 .5-.6 .6 1.1 .5-1.7 .6 .8 .5-1.4 .6 1.1 .5-.5 .6 1.7 .5-.5 .6-.2 .5 1.1 .6-.3 .5-.6 .6-1.2 .5-.6 .6 1.2 .5-.3 .6-.2 .5 .3 .6-1.1 .5 2.5 .6-2.1 .5 .4 .6 1 .5-1.8 .6 2 .5 .1 .6-1.1 .5-.6 .6 .5 .5-1.1 .6 2.6 .5-1.1 .6-.6 .5-.1 .6 1.2 .5 .7 .6-2.2 .5 .5 .6-.9 .5 1.9 .6-.4 .5 1.7 .6-1.9 .5-.3 .6-.2 .5 1.3 .6-2 .5 1.9 .6-.4 .5-.6 .6-.4 .5 1.6 .6 .7 .5-1.9 .6 .8 .5 1 .6-1.9 .5 .3 .6-.8 .5 .9 .6 0 .5-.3 .6-.2 .5-.7 .6 .2 .5 .3 .6 1.3 .5-1 .6-.2 .5 1.2 .6-.1 .5-1.1 .6 .1 .5 1.1 .6-.3 .5-.9 .6 .8 .5-.2 .6 .9 .5-1.6 .6 1.5 .5-.4 .6-1.2 .5 1.7 .6-.1 .5-1.9 .6 2.7 .5-2.5 .6 .2 .5 .4 .6 .9 .5-.1 .6-.6 .5 1.2 .6-.8 .5 .8 .6 1.2 .5-2.2 .6-2.2 .5 1.7 .6-.5 .5 .9 .6 .1 .5-1.1 .6 0 .5 .7 .6 .1 .5-2 .6 2.9 .5-.7 .6-.1 .5 .3 .6-1.1 .5 .8 .6 .9 .5 0 .6-.5 .5-.6 .6-.5 .5 1.8 .6-.7 .5-.8 .6-1.4 .5 1.1 .6-.9 .5 2.6 .6-.9 .5-.7 .6 .3 .5 2.4 .6-1.1 .5-2.2 .6 1 .5-.9 .6-.4 .5 1.6 .6 1.8 .5-.7 .6-1.2 .5-.4 .6 .5 .5 .7 .6-2.1 .5-.4 .6 3.2 .5-1.4 .6 1.1 .5-1.1 .6 1 .5-1.8 .6 1 .5 .8 .6-.4 .5-1.2 .6 1.1 .5-1.3 .6-.7 .5 1.7 .6 .7" stroke="#ff0000"/>
<path d="M166 1171.4 l.6-.1 .5 0 .6-.1 .5-.6 .6-2.6 .5 4.3 .6-.2 .5-.6 .6-2.8 .5 .2 .6 3.1 .5-.3 .6-.5 .5-1 .6 .8 .5-1.2 .6 .2 .5-.8 .6 1.4 .5-.9 .6 1.6 .5-.3 .6-2 .5 3.2 .6-3.7 .5 1.9 .6 .7 .5 .2 .6-4.4 .5 3.9 .6 .3 .5 .2 .6-4.7 .5 1.9 .6 .7 .5-.5 .6 2.2 .5-2.6 .6 2.3 .5-.9 .6-2.6 .5 .6 .6 .6 .5 .6 .6 1.1 .5-1.6 .6 1.4 .5-3.2 .6-1.9 .5 3.3 .6 1 .5-1.1 .6-.9 .5 1.7 .6 1.9 .5-2.6 .6-.9 .5-.2 .6 3.5 .5-2.6 .6 .8 .5 .7 .6-.2 .5-2.6 .6 2.3 .5-.2 .6-.5 .5 .6 .6-2 .5 .5 .6-.6 .5 1.6 .6-1.8 .5 1.2 .6-1.9 .5 1.2 .6-.4 .5 .3 .6 .2 .5-.4 .6-.1 .5-2.4 .6 3.9 .5-2.2 .6 .4 .5-.8 .6 2.3 .5-2.5 .6 1.7 .5 .8 .6 .6 .5-.7 .6-.7 .5-2.3 .6 3 .5-.2 .6-.4 .5-.1 .6-1 .5-.8 .6 2 .5 .1 .6-2.9 .5 2.4 .6-.9 .5 .8 .6-.9 .5 1 .6-.1 .5-.2 .6-2.9 .5 2.7 .6-1 .5-1.5 .6 2.2 .5-2.6 .6 2.7 .5 1 .6-2.8 .5 1.7 .6-.6 .5 .2 .6-2.6 .5 2.4 .6-.6 .5 .7 .6-1 .5 1.3 .6-1 .5 .4 .6 .8 .5-1.5 .6 1 .5-1 .6 .3 .5-1.4 .6 1.6 .5 .5 .6-1.6 .5 1 .6-.5 .5-2 .6 1.8 .5 1.1 .6-2.2 .5-1.7 .6 2.4 .5-1.1 .6 3.1 .5-2.4 .6 0 .5-.8 .6 1 .5-1.1 .6-.4 .5 1 .6-1 .5 2.6 .6-3.1 .5 1.3 .6-.8 .5-.9 .6 3.7 .5-4.7 .6 4.3 .5-3.6 .6 1.8 .5 2.6 .6-5.4 .5 .9 .6 3.2 .5-1.4 .6-.9 .5 .5 .6-1.1 .5 1.2 .6 1.7 .5-2.4 .6 .6 .5 1.3 .6 .9 .5-3.2 .6 1 .5-1.1 .6-.1 .5 .2 .6-.3 .5-1.4 .6-.4 .5 1.5 .6 1.1 .5 1.2 .6-2.1 .5 .4 .6 .9 .5 .1 .6-1.1 .5 0 .6 2.3 .5-2.7 .6-.3 .5-1.4 .6 2.5 .5-.9 .6 2.6 .5-2.8 .6 1.4 .5 .1 .6 .8 .5-3.6 .6 3.4 .5-1.9 .6-.2 .5-.3 .6-.1 .5 0 .6-2.5 .5 3.4 .6-.6 .5-1.2 .6 1 .5 2.8 .6-2.3 .5-1 .6 2.5 .5-3.1 .6 .7 .5-.5 .6 .3 .5 1.2 .6-.2 .5-1.7 .6 .7 .5 .2 .6-.6 .5 .4 .6-.9 .5-.1 .6 .9 .5-1.3 .6 1.7 .5-.8 .6-.9 .5 .3 .6 .1 .5 .4 .6 .3 .5-.5 .6-.8 .5 2.7 .6-.7 .5-1 .6 1 .5-.8 .6-.8 .5 .4 .6 3.1 .5-2.1 .6 0 .5-1.8 .6 1.2 .5 1.9 .6-2.3 .5 .8 .6 .1 .5-.7 .6 1 .5-1.7 .6 .3 .5-1.4 .6 3.9 .5-2.9 .6-.3 .5 1.5 .6-2.3 .5 .5 .6-1 .5 .9 .6-.5 .5 1 .6-.8 .5-.7 .6 .4 .5 .1 .6-.5 .5 1.7 .6-.4 .5-.7 .6-1.7 .5 2 .6-2.2 .5 1.7 .6-.3 .5-.8 .6-.3 .5 .1 .6 3.2 .5-2.9 .6 0 .5 1.4 .6-.7 .5 .7 .6-2.9 .5 .1 .6 5.3 .5-4.1 .6-.4 .5 .5 .6 .9 .5-2.7 .6 1.7 .5-.4 .6 .7 .5-.6 .6-1 .5-.4 .6-2 .5 4 .6-3 .5 1.2 .6 2.4 .5-2.5 .6 1.1 .5-1 .6 1 .5-.9 .6-.7 .5 2.2 .6-2.1 .5-1.3 .6 1.1 .5 1 .6-2.1 .5 2.2 .6-.1 .5 1.6 .6-3.4 .5 1.5 .6-2.9 .5 1.4 .6 .6 .5 .3 .6-.7 .5-.1 .6-.7 .5 .1 .6 .9 .5 .2 .6 0 .5 .3 .6 .2 .5-3.7 .6 1.5 .5 .3 .6-.6 .5 1.9 .6-.4 .5-1.1 .6 .2 .5 1.2 .6-2 .5 0 .6 1.4 .5-.7 .6 1.1 .5-1.4 .6 .4 .5-1.7 .6-.5 .5 1 .6-3.3 .5 3.6 .6 .6 .5-1.2 .6-.5 .5 1.5 .6-1.5 .5 1.1 .6 1.3 .5-1.8 .6 .1 .5-.7 .6-.4 .5-.1 .6-.4 .5 1.1 .6-3.4 .5 1.4 .6 1 .5-2 .6 .7 .5-.9 .6 1.2 .5 .3 .6 .4 .5-1.4 .6-1.7 .5 .9 .6 0 .5 .5 .6-4.9 .5 2.1 .6-4 .5 1 .6-3.2 .5-4 .6-4.9 .5-7.5 .6-9.4 .5-8.1 .6-8.5 .5-10.4 .6-6.6 .5-5.3 .6 2.7 .5 1.4 .6 6 .5 8.5 .6 8.5 .5 9.6 .6 9.8 .5 6.1 .6 6 .5 4 .6 0 .5 3.5 .6 2.4 .5 1.7 .6-4 .5 .2 .6 2.4 .5-.9 .6-.7 .5 1.6 .6-1.4 .5-1.8 .6 2.6 .5 .1 .6 .5 .5 .3 .6-1 .5-.6 .6-.6 .5-1.2 .6 1.3 .5 1.6 .6-.5 .5 1.6 .6-2.8 .5-2 .6 3 .5 .1 .6-2.7 .5-.7 .6 2 .5 .6 .6-2.3 .5 .8 .6-.7 .5-.6 .6-.2 .5 1.6 .6-.7 .5-.5 .6-2.4 .5 5.1 .6-3.3 .5 .8 .6-1.3 .5 1.7 .6-2.3 .5 1.8 .6-.5 .5 1.3 .6-2.5 .5 .4 .6 .4 .5 2.7 .6-4.4 .5 2.1 .6-1.3 .5 1.1 .6 .3 .5-.7 .6 .1 .5 0 .6-1.2 .5 .4 .6-1.8 .5 1.5 .6-.6 .5 .6 .6 1.1 .5-.5 .6 0 .5 .7 .6-4.2 .5 3.3 .6-.6 .5-.2 .6-1.5 .5 2.1 .6 .7 .5-.2 .6-1.4 .5 .8 .6 .3 .5 1 .6-.8 .5-1.4 .6-.1 .5 0 .6 0 .5-.9 .6 1.4 .5-1.8 .6-.2 .5 1.3 .6-1.1 .5 .3 .6-2.3 .5 3.4 .6-1 .5-.3 .6 .7 .5-.4 .6-1.2 .5 3.2 .6-3 .5 1.6 .6 .9 .5-3 .6 .8 .5-1.2 .6 2.1 .5-1.7 .6-1 .5 2.7 .6-.5 .5-2.3 .6 2.4 .5-1.3 .6 2.9 .5-1.3 .6-2.8 .5 .2 .6-.9 .5 1.1 .6-.2 .5 .7 .6-.9 .5-2 .6 .7 .5 2.5 .6-.4 .5-1.7 .6-.1 .5-.2 .6 .1 .5-2.1 .6 2.9 .5-2 .6 .8 .5-3.3 .6 3.2 .5 1.2 .6-4.4 .5 4.3 .6-1.4 .5-1.6 .6-1.1 .5 3.1 .6-1.2 .5 .3 .6-1.2 .5-.8 .6 1.9 .5-2.4 .6 2.1 .5-3.2 .6 .8 .5-.8 .6 3.1 .5-3.7 .6 .5 .5 2.1 .6-.7 .5 2.2 .6-.6 .5-1.5 .6-.1 .5-3.1 .6 1 .5 .5 .6 0 .5-1.5 .6 .4 .5-.1 .6 2.2 .5-.9 .6-1 .5-.1 .6 .6 .5-1.4 .6 .4 .5-1.8 .6 2.7 .5 .2 .6-.8 .5 0 .6-.2 .5 1.9 .6-2.3 .5-2 .6 .2 .5 2 .6 .3 .5-.4 .6-.1 .5-.9 .6-2.1 .5 .9 .6-1.5 .5 1.6 .6-1.3 .5 1.7 .6-.5 .5-2.2 .6 3.1 .5-.1 .6-2.7 .5 1.8 .6 .5 .5-1.3 .6 1.3 .5-.9 .6 .9 .5-1.2 .6-.5 .5 .7 .6 .2 .5-.7 .6-1 .5-.5 .6 .4 .5-.3 .6 .8 .5-.2 .6-.4 .5 0 .6 .1 .5 1.6 .6-.5 .5-2.3 .6 1.1 .5-1 .6 .2 .5-.3 .6-.5 .5-1 .6-1.5 .5 3.2 .6 1 .5-2.6 .6 1.6 .5-1.1 .6 .7 .5-1.4 .6 .6 .5 0 .6-2.8 .5 3 .6-.5 .5-2.9 .6 3.7 .5-1 .6 .2 .5 .1 .6-1 .5-.9 .6 .7 .5-.1 .6 3.1 .5-.5 .6-2.9 .5 0 .6 .8 .5 .2 .6-1.6 .5-.4 .6 3.4 .5-1.1 .6-3.3 .5-.3 .6 1 .5 1.2 .6 .3 .5-1.1 .6-1.7 .5 2.2 .6 .3 .5-.8 .6-.7 .5 1.2 .6-.8 .5-1.4 .6 1.4 .5-1.8 .6 2.6 .5-.7 .6-1.8 .5 1.3 .6 1.2 .5-4.2 .6 2.3 .5 2.1 .6-4 .5 1.6 .6-1.6 .5 1.6 .6-2.9 .5 .8 .6 1.3 .5 .7 .6 .2 .5 0 .6 .8 .5-.6 .6-.1 .5-2.1 .6 .9 .5 4 .6-1.2 .5-1.8 .6-.2 .5 .2 .6-1.7 .5 2.8 .6-2.9 .5 .3 .6 2.7 .5-5.3 .6 2.9 .5-2.6 .6 1.3 .5 .6 .6-.3 .5 .6 .6-1.2 .5 .8 .6-1.4 .5 1 .6-1.3 .5 2.5 .6-2.4 .5 2.4 .6-1.4 .5 .1 .6 1.8 .5-1.3 .6-2.5 .5 3 .6-4.2 .5 3.9 .6-.8 .5-1.3 .6 1.9 .5-.5 .6 2.9 .5-3 .6 2.9 .5-.7 .6-2.4 .5-.2 .6 2.6 .5-1.8 .6 .4 .5-.5 .6-1.1 .5 1 .6-.7 .5-.6 .6 1.5 .5 2.6 .6-.1 .5-2.1 .6 .3 .5 .5 .6 1.1 .5-1.3 .6-.9 .5 .1 .6 2 .5 1.8 .6-3.9 .5-1.8 .6 3.6 .5-1 .6 .3 .5 1.4 .6-1.4 .5-1.7 .6-.7 .5 2.4 .6-1.3 .5 1.8 .6-1.9 .5 1.2 .6-1.3 .5 1.4 .6 0 .5 1.3 .6 1 .5-1.9 .6-.7 .5 3.5 .6-1.9 .5 .4 .6 0 .5 1.1 .6-.5 .5-.3 .6 .1 .5-1.9 .6 .3 .5 .7 .6 .3 .5 0 .6 .4 .5-.3 .6-.5 .5-1.4 .6 3.1 .5-.2 .6-1.8 .5 1.8 .6-.1 .5-.4 .6-2.3 .5 .9 .6 .8 .5 2.8 .6-3 .5 .7 .6-.9 .5 .8 .6 1.2 .5-3 .6-.9 .5 4.5 .6-.7 .5-.8 .6 2.1 .5 .1 .6-3.8 .5 2.5 .6 1.7 .5-2.2 .6 .6 .5 1.6 .6-1.4 .5-1.1 .6 .7 .5-.7 .6 2.5 .5-2.8 .6 3.5 .5-3.2 .6 2.2 .5-1.8 .6 1.5 .5 1.8 .6 .2 .5 .4 .6-1.7 .5 .4 .6 .2 .5 .6 .6-1.2 .5 2 .6-.9 .5 1.2 .6-.8 .5 .4 .6-1.7 .5 .5 .6-.9 .5 1.3 .6 .3 .5 1.3 .6-2.5 .5 5.8 .6-4.1 .5 1.8 .6-.2 .5-4.3 .6 2.9 .5 2.3 .6-4.7 .5 4.1 .6-2 .5 .6 .6 1 .5-2.5 .6 2.7 .5-.9 .6 0 .5 1.9 .6 3.6 .5-3.8 .6 .3 .5-.6 .6-.7 .5 1.3 .6 1.7 .5-1.5 .6 1 .5-1.3 .6 3.6 .5-5.1 .6 2.9 .5 .1 .6-.2 .5-1.6 .6 .1 .5 1.3 .6 .5 .5-1.5 .6 .4 .5 2.2 .6 .7 .5-1.8 .6 0 .5 .1 .6 4.1 .5-2.3 .6-.5 .5 1.5 .6 1.8 .5-1.3 .6-3.1 .5 1.9 .6-.2 .5 .2 .6-.9 .5 1.2 .6-.7 .5 1.9 .6-.2 .5-1.6 .6-.2 .5 1.7 .6 1.6 .5-.1 .6-.5 .5-3.9 .6 3.7 .5-.2 .6 .7 .5-.9 .6 1.1 .5-.1 .6 4.4 .5-2.4 .6-1 .5 .4 .6 0 .5 .6 .6-.6 .5 .6 .6 1.4 .5-.1 .6-.5 .5 1.4 .6-1.2 .5-1.4 .6-.8 .5 1.4 .6 .9 .5 .7 .6 1 .5-2 .6-.1 .5 2 .6 .6 .5-1.9 .6 1.1 .5 1.4 .6-1.3 .5-.3 .6-2.5 .5 4.3 .6-.7 .5-.6 .6-.7 .5-.9 .6 1.5 .5 0 .6 1.6 .5-2.8 .6 3.4 .5-1.7 .6 1.5 .5-2.7 .6 1.7 .5 1.2 .6-1.4 .5-1.9 .6 1.5 .5 1.1 .6-2.4 .5 0 .6 2.2 .5-1.5 .6 2.1 .5-2.3 .6-.8 .5 1.4 .6 2.9 .5-2.9 .6 1.1 .5 .3 .6-1.4 .5 2.6 .6-1.1 .5 .3 .6-2.6 .5-.1 .6-1.2 .5 3.3 .6 0 .5 1.2 .6 1 .5-2.2 .6 .1 .5 .9 .6 1.4 .5-2.9 .6 1.8 .5-1.1 .6 0 .5 1.4 .6-2 .5-.3 .6 2.2 .5-.8 .6-.3 .5 .2 .6 .8 .5-1.1 .6 1.4 .5-.5 .6 1.3 .5-.3 .6-.5 .5-1.4 .6 .3 .5-1 .6 4.2 .5-4.1 .6 .8 .5 .7 .6-3.8 .5 .1 .6-.3 .5-2.2 .6-2.6 .5-2.7 .6-3.5 .5-9.3 .6-12.8 .5-15.9 .6-21.5 .5-18.9 .6-22.6 .5-21.9 .6-12.8 .5-7.1 .6 .9 .5 6.9 .6 12.4 .5 14.9 .6 19.4 .5 18.7 .6 18.3 .5 15.9 .6 13.7 .5 14.3 .6 3.6 .5 10 .6 3.2 .5 2.5 .6 1.2 .5 1.6 .6-.3 .5 .3 .6 2.1 .5-1.6 .6 3.5 .5 .5 .6-5.5 .5 2.4 .6 2.3 .5-.1 .6-.4 .5 .1 .6 0 .5-.3 .6 .6 .5-2.9 .6 .4 .5-3.8 .6 1.2 .5-1.8 .6 2.9 .5 1.1 .6-2.1 .5-1.8 .6 2.1 .5 1 .6 1.2 .5 2.1 .6 .8 .5-3.6 .6 5.9 .5-1.5 .6 .6 .5 3 .6-1.6 .5-.9 .6 .4 .5 2 .6 1.3 .5 1 .6-1.9 .5-.3 .6 2.8 .5-2.5 .6 2.5 .5-1.4 .6 .1 .5-.4 .6 .7 .5-.8 .6-.2 .5 .8 .6-.6 .5 1.3 .6-.2 .5-.4 .6 .2 .5 0 .6 2.6 .5-2.2 .6-.6 .5 .4 .6 1.2 .5-1 .6 .1 .5-.1 .6 .6 .5 .3 .6 .1 .5-2.6 .6 .7 .5-2 .6 4.3 .5 .3 .6 .2 .5-1.5 .6 1.1 .5-1.6 .6-.2 .5-2.1 .6 .6 .5-.3 .6 1 .5-.6 .6-5.1 .5-2.7 .6-5.7 .5-9.1 .6-11.4 .5-11.1 .6-14.6 .5-12.4 .6-11.9 .5-8.4 .6-3.4 .5 2.1 .6 3.1 .5 9.4 .6 5.7 .5 12.4 .6 11.5 .5 9.6 .6 9.2 .5 11.7 .6 5.7 .5 7.5 .6 4.2 .5 2 .6 2 .5 2.5 .6 .1 .5-1 .6 1.8 .5 .8 .6-.1 .5 .2 .6-.3 .5 .3 .6-.9 .5-.4 .6 3.2 .5-2 .6 1.2 .5-2.1 .6 2.2 .5-1.1 .6 4.7 .5-4.8 .6 .1 .5 2.5 .6 .3 .5-3.9 .6 2.9 .5 .8 .6-2.5 .5 2.4 .6-1.5 .5-.6 .6 .8 .5-.3 .6-1.3 .5 4.2 .6-3.6 .5-.8 .6 1.5 .5-1.8 .6 1.1 .5-2.6 .6 .1 .5-.9 .6-.3 .5-.7 .6 .2 .5 2.5 .6-2.4 .5 .9 .6 .9 .5 1.9 .6 .5 .5 1.3 .6-2.3 .5 2.4 .6-.2 .5 .1 .6 .7 .5-2.5 .6 2.7 .5-.1 .6-2 .5 1.5 .6 1.9 .5-2.5 .6 1 .5-1.2 .6-1 .5-.4 .6 .3 .5 1.7 .6-1 .5-2.3 .6 1.5 .5-1.9 .6-1.4 .5 .5 .6-2.5 .5-1.9 .6 2.2 .5-5.3 .6 .8 .5-5.1 .6-2.2 .5-6.4 .6-10.8 .5-19.6 .6-26 .5-43.6 .6-63.3 .5-80.4 .6-95.4 .5-104.4 .6-91.7 .5-67.3 .6-23.7 .5 12.9 .6 39.5 .5 46.4 .6 52.6 .5 59.4 .6 62.2 .5 72 .6 66.2 .5 61.3 .6 53.1 .5 38.5 .6 29.7 .5 15.8 .6 14.3 .5 6.6 .6 5 .5 1.1 .6 5.5 .5 .7 .6-.2 .5 .6 .6 1.4 .5 3.5 .6-1.2 .5 .3 .6 1.5 .5-.2 .6 .7 .5 .9 .6-.2 .5 .9 .6-2.2 .5 1.6 .6-.3 .5 .7 .6 0 .5-.6 .6 .4 .5 1.7 .6-1.7 .5-.8 .6 2.2 .5 .5 .6-1.4 .5 .4 .6-1.1 .5 .7 .6 1.5 .5-.4 .6-.8 .5-.6 .6-1.8 .5 2.1 .6-.1 .5 .3 .6 .6 .5-2.8 .6-.5 .5-4.3 .6 .2 .5-3.9 .6-4.2 .5-7 .6-7.9 .5-7.9 .6-12.8 .5-9.6 .6-10.8 .5-12.9 .6-9.4 .5-4.7 .6-3.7 .5 .4 .6 2.7 .5 3.3 .6 8 .5 9.2 .6 7.5 .5 10 .6 9 .5 11.7 .6 9.9 .5 3.7 .6 8.9 .5 5.4 .6 2.5 .5 3.5 .6 1.6 .5 2.2 .6 2.4 .5 1.5 .6 .1 .5 1.5 .6-.4 .5-1.2 .6 3.3 .5 0 .6-2 .5 3.1 .6-1.3 .5-.2 .6 2.3 .5-5 .6 1.2 .5 2.8 .6-.9 .5-.7 .6 3 .5-1.1 .6-1.9 .5 .8 .6 1.9 .5 1.2 .6-4.3 .5 2.7 .6-.6 .5-1.5 .6 1.9 .5-1.5 .6 1.3 .5 2.6 .6-1.2 .5 .4 .6-.1 .5-.2 .6 .8 .5-2.4 .6 .9 .5 1.4 .6-2 .5 0 .6 1.4 .5-.4 .6-3.6 .5-1.8 .6-.2 .5-2.6 .6-3.4 .5-.8 .6-2 .5-1.8 .6 2.8 .5-1.5 .6 .3 .5 1.5 .6 3.8 .5-.4 .6-.2 .5 3.3 .6 1.7 .5 1.2 .6 2.7 .5 1.5 .6 .9 .5 .5 .6 2.3 .5-2.2 .6 3.3 .5-.6 .6 .6 .5-2.9 .6 4.9 .5-3.8 .6 1.2 .5 1.9 .6-1.3 .5 .3 .6-2 .5 2.2 .6 .9 .5 .6 .6-1 .5 .6 .6 .4 .5-1.2 .6 0 .5 3.2 .6-3.2 .5 2.5 .6-1.3 .5 1.7 .6-2.3 .5 1.4 .6-.2 .5-.6 .6 .7 .5-1.2 .6 .9 .5-.3 .6 1.4 .5-1 .6-1.4 .5 1.2 .6 .4 .5-.9 .6 2.7 .5-1.1 .6 .6 .5-1.8 .6 .5 .5 1.6 .6-2.7 .5 2.1 .6-.3 .5-.6 .6 .7 .5-1.3 .6 1.6 .5-1.6 .6 0 .5 3.1 .6-2.4 .5-1.6 .6 3.6 .5-1.9 .6-3.1 .5 4 .6 1.1 .5-.6 .6 1.6 .5-2 .6 .9 .5-1.8 .6 1.4 .5 1.6 .6-1.2 .5-.3 .6-2.4 .5 1.9 .6-1 .5 2.4 .6-1.7 .5 1.3 .6-1.5 .5 3.4 .6-3.5 .5 1.6 .6 2.9 .5-2.7 .6-1.2 .5 1.7 .6 .5 .5-.1 .6-3.2 .5 2.5 .6-2.6 .5 4.6 .6-2 .5-.6 .6 1.4 .5-.2 .6-1.8 .5 3.2 .6-2.1 .5-1.6 .6 3.6 .5 .2 .6-.3 .5-.7 .6-1.6 .5 2.1 .6 1.1 .5-1.1 .6 .9 .5-2.6 .6 2.1 .5-.1 .6-2.7 .5-.1 .6 1.1 .5 1 .6 .5 .5-.8 .6 .3 .5 0 .6 .3 .5 .6 .6-.1 .5-.6 .6 .4 .5-.7 .6 1.4 .5-1.4 .6 2.4 .5-1.9 .6 .4 .5-1.2 .6 .4 .5 .5 .6-.4 .5-.9 .6-1 .5 .8 .6-.5 .5-.4 .6-.4 .5-3.2 .6-3.6 .5 .2 .6-4.2 .5-1.7 .6 0 .5-3.1 .6-3.8 .5-2.2 .6-1.2 .5-3.2 .6 1.9 .5-.9 .6 3 .5-2.2 .6 3.8 .5-.1 .6 4.1 .5 0 .6 4.4 .5 1.2 .6 2 .5 3 .6 2.8 .5 1.8 .6 3 .5 .6 .6-2.8 .5 3.6 .6-1 .5 2.5 .6 1.6 .5-1.7 .6 .5 .5 1.8 .6-.2 .5 2.3 .6-1.2 .5 .4 .6 1.5 .5-2.4 .6 .8 .5-1 .6 1.5 .5 1.1 .6 .5 .5-1.5 .6-.6 .5 .1 .6-.6 .5 1.8 .6 1.5 .5-4 .6 .3 .5 4.2 .6-3.3 .5 2.3 .6-1.7 .5 2.5 .6 .1 .5-.6 .6 .9 .5-.8 .6 .8 .5 1.5 .6-.7 .5-1.8 .6 0 .5 .7 .6 .2 .5 .5 .6-.6 .5 1.5 .6-.5 .5 .5 .6-.3 .5 .9 .6-1.9 .5 3.3 .6-1.3 .5 .3 .6 .3 .5 .7 .6-.2 .5-.4 .6-.4 .5-1.5 .6 2.3 .5-.5 .6 .2 .5 3.2 .6-4.7 .5 2.3 .6 1.5 .5-.2 .6 .5 .5-2.7 .6 .5 .5 1.9 .6-.9 .5 2.4 .6-1.6 .5 .1 .6 .4 .5-.7 .6 .6 .5-.8 .6 .9 .5-.4 .6 .9 .5-1.7 .6 0 .5 2.3 .6-.1 .5-1.2 .6 .9 .5-.8 .6 3.6 .5-3.9 .6 3.8 .5-2.8 .6 1.5 .5-.6 .6 0 .5 1.6 .6-.1 .5-1.1 .6-.6 .5 3.5 .6-.7 .5-1.3 .6-.3 .5 .7 .6-.1 .5 1.4 .6-2.3 .5 1.2 .6-.8 .5 2.4 .6 .6 .5-2 .6 .8 .5 1.1 .6-1.8 .5-.6 .6 2.3 .5-.5 .6-.7 .5 1.9 .6-1.2 .5-2.2 .6 2.5 .5-.4 .6 2.2 .5-2 .6-.1 .5 .8 .6-.1 .5-1.8 .6 1.8 .5-.4 .6 2 .5 1.1 .6-3.8 .5 .3 .6 .2 .5 .2 .6 .1 .5 .8 .6 1.2 .5-2.6 .6-.3 .5-.4 .6 3.2 .5 0 .6-3.4 .5-.5 .6 1.5 .5 .4 .6-.8 .5-1.7 .6-.4 .5-1.2 .6-1.8 .5 2 .6-2.5 .5-1.3 .6 .9 .5-.6 .6 2.6 .5 2.1 .6-1.5 .5 3.6 .6 2.1 .5-1 .6-.9 .5 .9 .6 1.1 .5-.6 .6 .4 .5 1.3 .6 .3 .5 1 .6-1.8 .5 3.5 .6-.8 .5-.1 .6-1.6 .5 2.7 .6-2.3 .5 2.5 .6-.8 .5-2.1 .6 .6 .5 2.6 .6-.9 .5-1.3 .6 .5 .5 0 .6-1 .5 .7 .6-.5 .5 .3 .6 1 .5-1.6 .6 1.9 .5-.7 .6 .7 .5 .2 .6 .3 .5-.7 .6 .1 .5-1 .6 .7 .5-1.7 .6 .7 .5 .9 .6-1.1 .5 .3 .6-2 .5 2 .6-3.1 .5-.7 .6-3.1 .5-2.9 .6-7 .5-8 .6-9.9 .5-8.3 .6-11 .5-6.9 .6-4.8 .5-5.9 .6 2.8 .5 5.9 .6 6.1 .5 3.7 .6 4.2 .5 3.8 .6 3.9 .5 5.8 .6 4.3 .5 4 .6 6.7 .5 6.1 .6 3.4 .5 4.2 .6 2.4 .5 1.7 .6 2.7 .5-.3 .6-.2 .5 .8 .6 1 .5 2.5 .6-1.8 .5 1.4 .6-.9 .5-2.7 .6 2.8 .5-1.2 .6-.5 .5 .4 .6 3.2 .5-3.6 .6 1.1 .5 2 .6-.4 .5-2.6 .6 1.8 .5-.3 .6 .4 .5 1.1 .6-1.4 .5 .3 .6 2 .5-3.5 .6 1.6 .5 1 .6-1.8 .5 .7 .6-.7 .5 1.7 .6-.8 .5 1.5 .6 .3 .5-1 .6-.4 .5 .8 .6-.2 .5-1.3 .6 2.5 .5-.8 .6 .6 .5-2.2 .6 2.4 .5 1.4 .6-1.5 .5-2.2 .6 1.7 .5-.1 .6 .4 .5-.4 .6 .8 .5-1 .6 .8 .5-.9 .6 .9 .5 1 .6-1.5 .5 1.3 .6-1.6 .5 .6 .6 .2 .5 1.7 .6-2.1 .5 2.1 .6-2.8 .5 1.5 .6 1.2 .5-.2 .6-1.8 .5-.1 .6 2.3 .5-2.3 .6 2.1 .5-1.2 .6 .6 .5 2.6 .6-.8 .5-.7 .6-2.3 .5 1.8 .6-.2 .5-.1 .6 1.6 .5-3.3 .6 2.3 .5-.2 .6-.9 .5 2.7 .6-3.2 .5 1.4 .6 .1 .5-2.4 .6 .9 .5 .5 .6 1.9 .5 .2 .6-.3 .5-.4 .6-2.6 .5 2.6 .6-.7 .5 1.8 .6 .2 .5 1 .6-1.7 .5 .1 .6-1.9 .5 1.1 .6-1.4 .5 2.3 .6-2.3 .5 1 .6-.8 .5 .2 .6 .8 .5-1.4 .6 .3 .5-1.9 .6 1.7 .5-3.3 .6 .3 .5-.6 .6-7.2 .5-1 .6-2.1 .5-1.8 .6-5.1 .5-2.4 .6-4.3 .5-1.4 .6-4 .5 .9 .6-4.5 .5 1.4 .6 4.9 .5-.4 .6 .6 .5 5.3 .6 .9 .5 2.5 .6 1 .5 3.7 .6 2.6 .5 .3 .6 4.8 .5 1.5 .6 3.5 .5 1.8 .6-.6 .5 1.3 .6 1.8 .5 1.3 .6-.5 .5 .8 .6 1.2 .5 .1 .6 1 .5-.8 .6-1.1 .5-.8 .6 2.9 .5-1.2 .6 .1 .5 .2 .6-1.3 .5 1.3 .6-2.3 .5 2.4 .6-.4 .5 2.9 .6-1.4 .5-.6 .6 .4 .5 .7 .6-1.5 .5 .6 .6-.1 .5 3.1 .6-2.6 .5-2.1 .6 3 .5 2 .6-3.8 .5 4.8 .6-3.7 .5 1.2 .6-1.7 .5 .4 .6-1 .5 .2 .6-1.1 .5 3.6 .6-2.4 .5 1.6 .6 0 .5-1 .6 .8 .5-.1 .6-.4 .5 .6 .6 .1 .5-1.1 .6-.3 .5 .6 .6 1 .5 1.4 .6 .1 .5-1.1 .6 .7 .5-.9 .6 1.1 .5-1 .6 .4 .5-.7 .6 .3 .5 2.1 .6-3.3 .5 1.4 .6-.6 .5 1.7 .6 .9 .5-2.2 .6-2.6 .5 3.7 .6 0 .5-2.4 .6 1.6 .5 .2 .6-2.3 .5 3.2 .6-.2 .5-.2 .6-1.3 .5 .4 .6 .1 .5 1.2 .6-1.5 .5 2.7 .6-1.2 .5-2.6 .6 4.1 .5-1.6 .6-.7 .5 .8 .6-2.1 .5 2.2 .6-2.7 .5 1.5 .6 2.6 .5-.1 .6-1.6 .5-.7 .6 2.1 .5-1 .6 .3 .5 .5 .6-1.8 .5 2 .6-3 .5 3.8 .6-3.2 .5 1.1 .6-.1 .5 1.6 .6 0 .5-.4 .6 .3 .5-.1 .6-.5 .5-1.9 .6-.4 .5 0 .6 2.4 .5-.1 .6 .1 .5 .4 .6-.5 .5-.7 .6-.5 .5-.4 .6 3.3 .5-.3 .6-2.4 .5 1.2 .6 .8 .5 1.2 .6-2.3 .5 .9 .6 1 .5-3 .6 1.1 .5 .7 .6-.7 .5 3 .6-1.3 .5-.7 .6-1.2 .5 2 .6-.3 .5-1.2 .6 .1 .5-1 .6 1.4 .5 1.1 .6 .1 .5-.4 .6 .2 .5-1.4 .6 .1 .5 1.8 .6-.8 .5-1.3 .6 1.4 .5 .3 .6-.1 .5-.6 .6-.7 .5 1 .6 1.4 .5-1.7 .6-.8 .5 1.1 .6-1.7 .5 1.6 .6-.6 .5 1.3 .6-.9 .5 1 .6 1.4 .5-2.7 .6-.6 .5 1.3 .6-.5 .5 .2 .6-.7 .5 1.2 .6-.5 .5-2.4 .6 2.1 .5 .5 .6 .9 .5-1.8 .6-.2 .5 2 .6-1.8 .5 .7 .6 .4 .5 .3 .6-.8 .5-1.1 .6 2.2 .5-1.5 .6-.1 .5 2.6 .6-1.2 .5-2 .6 .6 .5 .3 .6-.5 .5-1.2 .6 2.8 .5-.1 .6-.5 .5-.7 .6 .7 .5 .4 .6-1.7 .5 .7 .6-.2 .5 1.3 .6-.5 .5-1.6 .6 .7 .5 2.4 .6-2.8 .5 1.2 .6-.8 .5 1.9 .6-1.4 .5-.3 .6-.8 .5 .9 .6 1.1 .5-.1 .6-2.1 .5 3 .6-1.9 .5-.8 .6 1.2 .5-.8 .6 0 .5 0 .6 .5 .5-.4 .6-1.3 .5 2.3 .6-1.1 .5 1.7 .6-.7 .5 .1 .6-.5 .5 1.1 .6-1.6 .5-.7 .6 1.3 .5-3.2 .6 2.4 .5 .5 .6-.6 .5 1.6 .6-.6 .5-.7 .6-.6 .5 1.5 .6-1.9 .5 .2 .6 1.1 .5-.3 .6 1.4 .5-2.4 .6-1.8 .5 2.4 .6 .4 .5-1.6 .6 1.5 .5 0 .6-2.8 .5-.2 .6-1.2 .5 1.4 .6-.4 .5-.9 .6-2.8 .5-1 .6-2.8 .5-3.6 .6-5.3 .5-8.9 .6-11.8 .5-18.4 .6-25.1 .5-32.1 .6-36.5 .5-36 .6-31.9 .5-23.2 .6-7 .5 7.7 .6 18.9 .5 24.2 .6 20.9 .5 18.8 .6 7.3 .5 6.4 .6 .4 .5 6.9 .6 8.4 .5 12.8 .6 18.7 .5 18.9 .6 19.8 .5 16.7 .6 15.2 .5 5.8 .6 9.5 .5 2.7 .6 3.8 .5 2.5 .6 .9 .5 .8 .6 0 .5 .7 .6 .5 .5 1.4 .6-2.4 .5 1.3 .6-.6 .5 .5 .6 .3 .5 2.1 .6 1.1 .5-.6 .6-2.5 .5 1.4 .6-1.2 .5 1.7 .6 .8 .5-.6 .6 .3 .5-1 .6-1.8 .5-.1 .6 1.9 .5 .6 .6 .6 .5-1.7 .6 .3 .5 0 .6 .4 .5-1.6 .6-1.6 .5 1.3 .6-1.9 .5-1.5 .6-3.5 .5-1.1 .6-4.3 .5-3.1 .6-1.4 .5-3.2 .6-1.9 .5-1.5 .6-3.2 .5 .9 .6-2.5 .5 1.9 .6-.9 .5 2.7 .6 1 .5 1.5 .6 2.2 .5-1 .6 3.4 .5 .7 .6 2.7 .5 2.2 .6 1.1 .5 1.9 .6 1 .5 3.3 .6 .3 .5 2.3 .6-.8 .5 3.5 .6-1.7 .5 2.6 .6-1.2 .5 1.3 .6-.5 .5 .9 .6-.5 .5 1.3 .6-.6 .5 .1 .6 1 .5-2.3 .6 2 .5-1.2 .6-1.5 .5 2 .6-.7 .5 1.9 .6-2.1 .5 .5 .6 .2 .5-2 .6 2.4 .5-1.5 .6 2.4 .5 .2 .6-1.6 .5-1.5 .6 1.7 .5 0 .6 .6 .5-1 .6-.8 .5 1 .6-.8 .5 2.7 .6-2.4 .5 .1 .6 .6 .5-1.2 .6 .8 .5 .3 .6-.3 .5 .2 .6 1.5 .5-.8 .6-1.7 .5 .9 .6 1.2 .5-1.4 .6 .8 .5-.1 .6 .5 .5-.6 .6 0 .5-.7 .6 1.2 .5-1.2 .6 2.6 .5-1.7 .6-.2 .5 1 .6-.8 .5 .2 .6-.1 .5-.7 .6-.1 .5 .2 .6 1.8 .5-1.7 .6 .2 .5 0 .6 1.1 .5 1.3 .6-2.8 .5 1.4 .6-.4 .5-.4 .6 .8 .5-1.7 .6 2 .5-.6 .6-1.1 .5 2.5 .6-.7 .5 .3 .6-2.5 .5 1.1 .6-.2 .5 1.1 .6 .7 .5-3.1 .6 1.8 .5-.1 .6 1.1 .5-1 .6-1.2 .5 1 .6-.8 .5 .3 .6 .8 .5-.6 .6 .8 .5-1.8 .6 3.7 .5-1 .6-.5 .5-2 .6-.8 .5 1.2 .6 .6 .5 2.4 .6-.9 .5-1.8 .6 1.7 .5 0 .6-1.2 .5 1.1 .6-.8 .5-1 .6-.5 .5 1 .6 1 .5-2.3 .6-.3 .5 2.1 .6-3.2 .5 4.3 .6-2.3 .5 1.1 .6 1 .5-3.4 .6 .2 .5 3 .6-2.8 .5-.3 .6-.3 .5 0 .6-.9 .5-2.6 .6-2.2 .5-1.8 .6-2.2 .5-1.8 .6-4.3 .5-1.6 .6-5.8 .5-1.7 .6-1.4 .5-2.4 .6-2.1 .5-1.5 .6 .5 .5 1.4 .6 1.8 .5 .9 .6 .4 .5 2.1 .6 2.7 .5 1.8 .6-.6 .5 2.7 .6 .5 .5 3 .6 6 .5-1.4 .6 1.5 .5 1.6 .6 .9 .5 .8 .6 2.9 .5 .7 .6 2.4 .5-2.4 .6 2.4 .5 1.1 .6-3.1 .5 2.6 .6-2.2 .5 1.8 .6 .6 .5-2 .6-.7 .5-2.6 .6-1.8 .5-3.2 .6-7 .5-7.6 .6-9 .5-10.2 .6-13.1 .5-7.7 .6-6.7 .5-.1 .6 3.9 .5 6.2 .6 9 .5 5.4 .6 6.3 .5 2.6 .6 1.9 .5-.6 .6-1.4 .5-1.1 .6 2.8 .5 3.3 .6 6.1 .5 4.8 .6 6.9 .5 3.9 .6 1.9 .5 4.6 .6 .9 .5 3.7 .6 1.3 .5-.8 .6 .8 .5-1.5 .6-.6 .5 1.8 .6 .4 .5-1.1 .6 1.7 .5 .2 .6 .4 .5 1 .6-.7 .5-1 .6 .5 .5 .5 .6-1.5 .5 2.3 .6-.4 .5-1 .6-.4 .5 4.3 .6-2.8 .5 .1 .6 .9 .5-.8 .6-.7 .5 .5 .6-1.5 .5 1.6 .6-2.1 .5 1.9 .6 .2 .5-2 .6 3.3 .5-2.9 .6 2.2 .5-1.5 .6 .8 .5-.9 .6 3.1 .5-1.4 .6 .8 .5-.9 .6-.1 .5-.5 .6-.3 .5 .8 .6-.4 .5-.2 .6-1.2 .5 1.1 .6 .9 .5-1 .6 .8 .5-.4 .6-.8 .5 .1 .6 .2 .5 .5 .6 .1 .5 1.3 .6-2.1 .5-.8 .6 2.6 .5-1.1 .6 .4 .5 2.6 .6-1 .5-.8 .6 .3 .5-.7 .6 .8 .5-1.5 .6 0 .5 .2 .6 2 .5 0 .6-2 .5 1.7 .6-1.3 .5 1.2 .6-1.3 .5 1.2 .6-1 .5-.1 .6 .3 .5 .1 .6-.7 .5-.7 .6 3 .5-2 .6-1.4 .5-.4 .6-.5 .5 2.1 .6 1.9 .5-2.8 .6 1.2 .5-1.4 .6 2.8 .5-.7 .6 0 .5 1 .6 .3 .5-.6 .6-1.5 .5-.7 .6 .3 .5-.7 .6 3.4 .5-1.8 .6 .3 .5 0 .6 1.8 .5-2.5 .6 1.7 .5-.8 .6-.4 .5-1.7 .6 2.7 .5-1.6 .6 .3 .5 .7 .6-.1 .5 1 .6-1.7 .5 .8 .6 .1 .5-.3 .6 .7 .5-.9 .6 1.4 .5-1.8 .6-.7 .5 1.3 .6 1.2 .5-1.6 .6-.1 .5 .2 .6 .5 .5-.3 .6 .5 .5-2 .6 3.1 .5-.9 .6-1.4 .5 2.2 .6-.9 .5 .9 .6-2.5 .5 2.7 .6-1.5 .5-2.1 .6 2.7 .5-1 .6-.7 .5 .7 .6-1.6 .5 2.4 .6-.8 .5-.1 .6 1.6 .5-1.4 .6-.7 .5-.3 .6 .8 .5 1.1 .6-1.7 .5-.5 .6 1.8 .5-.9 .6-.2 .5 1.9 .6-3.4 .5 1.1 .6-2.4 .5 .6 .6-.5 .5-1.3 .6-4.9 .5-1.5 .6-4.2 .5-5.5 .6-2.1 .5-6.2 .6-3 .5 1.1 .6-.2 .5 6.5 .6 3.3 .5 2.1 .6 3.5 .5 1.4 .6 1.7 .5-3 .6-1.7 .5-1.5 .6 1.4 .5-.5 .6 2.9 .5 2.6 .6 1.4 .5 1.6 .6 3.7 .5-.2 .6 1.1 .5 1 .6-2.2 .5 .1 .6 2.8 .5-3.1 .6-1.4 .5 .3 .6-.8 .5-.8 .6 .6 .5 .5 .6 .3 .5 1 .6-1.6 .5 .8 .6 2.8 .5-.6 .6 2.2 .5-.4 .6-1.3 .5 2.2 .6-1.2 .5 1.4 .6 1 .5 .9 .6-2.1 .5 .6 .6-.5 .5 .3 .6-3.4 .5 1.7 .6 .1 .5-.7 .6-2.5 .5-.7 .6-3.2 .5-6.1 .6-7.5 .5-9.6 .6-11 .5-11.7 .6-12.2 .5-12.2 .6-6.4 .5 0 .6 7.1 .5 8.5 .6 10.8 .5 10 .6 7.4 .5 3.8 .6 .3 .5-1 .6-2.2 .5-2.5 .6-2 .5 1.3 .6 5.5 .5 4 .6 7.1 .5 5.9 .6 5.1 .5 4 .6 4.3 .5 2.1 .6 3.2 .5-.9 .6 1.3 .5 1.4 .6-.5 .5 .8 .6 .4 .5-2.3 .6 1.2 .5-.5 .6 2.2 .5-1.4 .6 .6 .5 1.1 .6-2 .5 .3 .6 .3 .5-.7 .6 1.3 .5-.5 .6 0 .5-1.1 .6-.5 .5-.2 .6-.3 .5-1.4 .6 1.5 .5 .1 .6-1.2 .5-.9 .6-.1 .5-.5 .6-.7 .5 .3 .6-4 .5-1 .6-3 .5-6 .6-9 .5-14.3 .6-20.1 .5-27.9 .6-37.7 .5-48.8 .6-51.2 .5-52 .6-43.4 .5-27.2 .6-2.5 .5 21.7 .6 36.2 .5 46.2 .6 41.1 .5 33.5 .6 22 .5 6.5 .6-2.6 .5-11.6 .6-15 .5-9 .6 .3 .5 11.7 .6 21.5 .5 26.3 .6 26.4 .5 24.7 .6 21.2 .5 17.5 .6 10.7 .5 9.7 .6 3.7 .5 4.9 .6-.2 .5 1.9 .6 2.1 .5 .7 .6 .1 .5 2.5 .6-1.4 .5 .6 .6-.4 .5 2.4 .6-.5 .5-.2 .6-1.6 .5 2 .6-.6 .5 1 .6 .6 .5-1.4 .6 1 .5 .7 .6-.5 .5-.4 .6-.6 .5 .5 .6-.5 .5 2.1 .6-.7 .5-1.2 .6 1.2 .5-1.1 .6-1.8 .5 4.2 .6 0 .5-2.4 .6 .7 .5 .9 .6-.5 .5-.4 .6 .4 .5 .2 .6-.2 .5 .7 .6-.4 .5-.4 .6 .7 .5-1.5 .6 2.8 .5-2.8 .6 1.5 .5 .4 .6 .1 .5-.2 .6 1 .5-2.2 .6 1 .5 .2 .6-.6 .5-.1 .6 1.7 .5-1.8 .6 .2 .5 .2 .6 .1 .5 .3 .6-.3 .5 .5 .6-.3 .5 .3 .6 .8 .5-2.1 .6 2.1 .5-2.1 .6 .8 .5-.8 .6-.9 .5-2 .6 2.6 .5-2.9 .6-.9 .5 .8 .6-1.8 .5 .9 .6-.9 .5-1.3 .6-.5 .5 .5 .6-1.5 .5 1.8 .6 .5 .5 0 .6 1.1 .5-1.2 .6 2.4 .5 .6 .6-2.3 .5 1.5 .6 1.4 .5-.8 .6-1 .5 .4 .6 2.2 .5 1.3 .6-2.1 .5 1.4 .6-.3 .5 .8 .6 .9 .5-.1 .6-.4 .5 2.7 .6-2 .5 .1 .6 1.2 .5-.9 .6-.2 .5 1.1 .6-1.8 .5 1.6 .6 .3 .5-.3 .6-.7 .5 .1 .6-1.5 .5 1.4 .6 .4 .5 .6 .6-.7 .5-.5 .6-.4 .5 .8 .6 .1 .5 1 .6-1.1 .5-.4 .6 .4 .5-.4 .6 .3 .5-1.8 .6 .6 .5 .3 .6 1.5 .5-.5 .6 .2 .5 1 .6-2 .5 2 .6-.7 .5-1 .6 2 .5-2.6 .6 .3 .5 .8 .6 .6 .5-.5 .6-1.8 .5 1.7 .6 .2 .5 2.4 .6-1.1 .5-1.1 .6-1 .5 1.2 .6-1.3 .5 1.3 .6 .1 .5-.6 .6 .6 .5-.5 .6-.2 .5 1.9 .6-.9 .5-.8 .6-.3 .5 .8 .6 .4 .5 .2 .6 .6 .5-.9 .6-1.4 .5 2.8 .6-.7 .5-.3 .6 .4 .5-2.5 .6 .9 .5-.2 .6 1.5 .5-2.2 .6 .6 .5 1.5 .6-.9 .5-1.1 .6 1.8 .5-3.1 .6 1.3 .5-.9 .6 .3 .5-1 .6-.7 .5 .6 .6-1.5 .5 1.5 .6-.9 .5 1.1 .6-1.1 .5 0 .6 1.1 .5 1.1 .6-2.7 .5 2.3 .6 .8 .5-1.4 .6 .8 .5 1.7 .6-1 .5 .4 .6 2.3 .5-2.1 .6 .2 .5-1.1 .6 1.2 .5 0 .6 2.7 .5-.3 .6-2.2 .5 3 .6-1.1 .5-.8 .6 1 .5-.4 .6-1 .5-.8 .6 .8 .5 .8 .6-.3 .5-.3 .6 1.5 .5-1.8 .6 1.8 .5-1.2 .6 .5 .5-1.1 .6 1 .5-.6 .6-.9 .5 1.6 .6 0 .5 .7 .6-.4 .5-1.2 .6 .4 .5-1.7 .6 1.3 .5 2.1 .6 .2 .5-.7 .6-.4 .5 .3 .6-.1 .5-2 .6 .8 .5 1.8 .6-.1 .5-.8 .6-.6 .5-.1 .6-.2 .5-.6 .6-1.1 .5 1.4 .6-1 .5-.6 .6 .8 .5-2.2 .6-2.5 .5-.3 .6-3.3 .5 1 .6-1.6 .5-.9 .6 .8 .5 1.5 .6-.7 .5 .7 .6 3.9 .5-.9 .6 2.1 .5-1.5 .6 1.1 .5-1 .6 .8 .5-1 .6-.5 .5 2 .6-.8 .5-1.5 .6 2.2 .5 .2 .6 .5 .5 1.2 .6 .7 .5 1 .6-.3 .5-.7 .6 1.4 .5 1.4 .6-1.9 .5 1.9 .6-.1 .5-.8 .6 .7 .5-.9 .6 .3 .5-.5 .6 1.3 .5 .9 .6-1.8 .5 1.6 .6-2.9 .5 1.1 .6-.1 .5 2.4 .6-2 .5 1.2 .6-2.5 .5 1.9 .6 .4 .5-.5 .6-2.4 .5 2.6 .6 .5 .5 .5 .6-.8 .5-1.9 .6 1.3 .5 1 .6-1.6 .5 1.2 .6-.9 .5 .5 .6 .5 .5-1.3 .6 3.1 .5-2.5 .6 .1 .5-1.1 .6 .5 .5-.6 .6-1.6 .5-.9 .6 .3 .5-2.3 .6-5 .5-3 .6-2.6 .5-4.3 .6-3.7 .5-5.1 .6-.1 .5-.3 .6 2.2 .5 4.1 .6 5.2 .5 3.7 .6 3.5 .5 .8 .6 1.4 .5-.9 .6-.4 .5-1.5 .6-1.8 .5-.4 .6-1 .5 .6 .6 .7 .5 2.9 .6 1.4 .5 3 .6 1.5 .5 1.8 .6 .5 .5-.3 .6 .3 .5 3.3 .6-1.2 .5 0 .6-.6 .5-.3 .6 2.8 .5-3.7 .6 .8 .5-.2 .6-1.1 .5-.3 .6 .4 .5 .2 .6-.2 .5 1.1 .6-1.7 .5 1.5 .6 1 .5-.3 .6-1.6 .5-1.4 .6 3.6 .5-.1 .6-.8 .5 1.9 .6-1.3 .5 .6 .6-.8 .5 1.3 .6-.5 .5 0 .6 1.5 .5-.7 .6-1.4 .5 2 .6 .2 .5-1.5 .6 .4 .5 .4 .6-.2 .5 .4 .6 .4 .5-1 .6 2.3 .5-2.4 .6 .1 .5 2.3 .6 .4 .5-2.1 .6-.2 .5-.8 .6 2 .5-.9 .6-.8 .5 1.1 .6 .8 .5-.6 .6 1.4 .5-.9 .6-.7 .5-.4 .6 .6 .5 .6 .6-.3 .5 .1 .6-.7 .5 .5 .6 .4 .5-1.2 .6-1 .5 2.7 .6-1 .5-.9 .6 .6 .5-.4 .6-1.3 .5 1.3 .6-1.1 .5 1.5 .6-.3 .5 1.1 .6-1.1 .5 .5 .6-.6 .5-.1 .6-.9 .5 2.2 .6-.8 .5-.6 .6 .7 .5-.6 .6-.2 .5 .8 .6 .9 .5-1.3 .6-1 .5 .7 .6 2.1 .5-2.2 .6 1.7 .5-1.2 .6 .8 .5-.7 .6-1.3 .5 1 .6 2.3 .5-2 .6 .6 .5-.8 .6 .2 .5 .4 .6 .2 .5 1.5 .6-1.9 .5-.2 .6-.4 .5-.6 .6-.2 .5 2 .6-2.2 .5 2.8 .6-.4 .5-1 .6-.8 .5 1 .6 0 .5 1 .6-1.6 .5 .3 .6 .3 .5-.2 .6-.3 .5-1 .6 .1 .5 .8 .6 .4 .5 1.1 .6 1.1 .5-.5 .6-1.2 .5 1.3 .6-1.8 .5-.4 .6 2.4 .5-3.1 .6 .5 .5-.1 .6 1.2 .5-2.2 .6 .7 .5-1.7 .6-1.5 .5 .3 .6-1.1 .5-2.2 .6-.9 .5-.9 .6 .7 .5-1 .6-.4 .5 .4 .6-.4 .5 1.6 .6-.2 .5 .2 .6 1.3 .5 1.5 .6 .3 .5 1.1 .6-2.3 .5 1.3 .6 .4 .5-1.3 .6 1 .5-.5 .6-.4 .5 2.4 .6-1.7 .5 2.6 .6-.6 .5 .1 .6 .6 .5 .6 .6 .3 .5 1.3 .6-1.6 .5 2.9 .6-.2 .5 .7 .6-2 .5-1.1 .6 1.5 .5 .4 .6 .5 .5-.7 .6 .4 .5 .2 .6-1.4 .5 2.9 .6-2.5 .5 1.2 .6 .7 .5-1.6 .6 .7 .5 1.5 .6-1.7 .5 1.2 .6-.7 .5 0 .6 .4 .5-.8 .6 .1 .5 1 .6-.6 .5 .2 .6-1.5 .5 1.1 .6 1.1 .5-.3 .6-.5 .5-.7 .6-.1 .5 1 .6 .8 .5-1.2 .6 1.2 .5-1.4 .6 1.3 .5-1.9 .6 1 .5-1.1 .6 1.6 .5-.1 .6-1.3 .5 .2 .6 .3 .5-.9 .6 .5 .5 0 .6 1.5 .5 .5 .6-1.6 .5 .2 .6 .4 .5-.6 .6 .2 .5 1 .6-.5 .5-.3 .6-.4 .5 1.8 .6-1.8 .5 .7 .6-1 .5 .4 .6 .6 .5-.4 .6 .8 .5-.4 .6-1.3 .5-.8 .6 2.9 .5-1.3 .6 1.8 .5-1.3 .6-.6 .5 1.1 .6-.7 .5 .3 .6-.8 .5 1.3 .6 .5 .5-1.4 .6 2 .5-2.1 .6 .8 .5-1.7 .6-.2 .5 3.5 .6-.6 .5-.2 .6-2.5 .5 1.7 .6 .2 .5-.3 .6 .2 .5-1 .6 .7 .5-.9 .6 .7 .5 .7 .6-1 .5 .4 .6-.1 .5 .4 .6 .8 .5-.6 .6 .2 .5-1.6 .6 .9 .5 1.1 .6-1.5 .5 .4 .6-.5 .5 2 .6-1.5 .5-.2 .6 1.2 .5 .4 .6-.5 .5 .4 .6-.7 .5-.2 .6-.3 .5-.1 .6 0 .5 .8 .6-.4 .5 .2 .6 .4 .5-.5 .6-1.1 .5 .5 .6-.3 .5-.7 .6 1.8 .5-1.2 .6 0 .5 .2 .6 1.7 .5-1.1 .6 1.2 .5-1 .6-.3 .5 .9 .6 .1 .5-.5 .6-1 .5 .6 .6-.7 .5 .8 .6 .3 .5 1.3 .6-.1 .5-.6 .6 .2 .5-.6 .6 2.2 .5-1.1 .6 1 .5-2 .6 .1 .5 .5 .6-.7 .5 .1 .6-1.2 .5 1.7 .6-.7 .5 .6 .6-.9 .5-1.3 .6 1.9 .5 .6 .6-2.1 .5 .3 .6 .5 .5 .1 .6-1.3 .5 3 .6-.6 .5-1.4 .6-1.1 .5 1.9 .6 1.4 .5-1 .6 .3 .5-1.8 .6 1 .5-1.5 .6 3 .5-1.2 .6-2.3 .5 .2 .6 2 .5-.3 .6-.4 .5 .8 .6 1.2 .5-1.4 .6-1.9 .5 1.5 .6-1 .5 .4 .6 1 .5-.5 .6-.7 .5 .9 .6-.7 .5 1.1 .6-.6 .5 .5 .6-.5 .5 .8 .6-.7 .5 .1 .6-.5 .5 .6 .6-1.7 .5 3.9 .6-2.9 .5 .7 .6-.5 .5 0 .6 .7 .5-.8 .6 .1 .5-.8 .6 .4 .5-.2 .6 2.5 .5-2.7 .6 .2 .5 1.1 .6 1.1 .5-2.7 .6 .1 .5 1.5 .6 .1 .5-1.5 .6-.3 .5 .7 .6 1.5 .5-.7 .6 .7 .5-.8 .6 .1 .5 .6 .6-.7 .5 .3 .6-1 .5 .3 .6 .9 .5-.6 .6-.4 .5 1.2 .6-.1 .5-.5 .6-.6 .5 1.4 .6 1.3 .5-2.8 .6-.6 .5 .6 .6-.1 .5-.3 .6 .1 .5 1.7 .6 0 .5 .5 .6-.6 .5-1 .6 1.3 .5-1.5 .6 .3 .5-.8 .6 2.1 .5-.2 .6-1.3 .5 .2 .6 .3 .5 .1 .6 .6 .5-.7 .6 .3 .5-1.7 .6 1.1 .5-1.3 .6 3 .5-.3 .6-.6 .5 .3 .6 .8 .5-.9 .6-2.2 .5 1.2 .6-1.8 .5 1.3 .6-.4 .5 1 .6 .4 .5-1.2 .6 .6 .5 .5 .6-.4 .5 0 .6-1.9 .5 1.6 .6 1.1 .5-.5 .6-1.5 .5 1.1 .6 .4 .5-1.1 .6 1.4 .5-1.2 .6 .4 .5 .2 .6 2 .5-2.2 .6-.3 .5 1.1 .6-1 .5 .6 .6-2.1 .5 2.2 .6-.3 .5-1.1 .6 2.2 .5-1.3 .6 0 .5-1 .6-.2 .5 .9 .6-.9 .5 1.7 .6 .4 .5-1.3 .6-.9 .5 1.1 .6-.6 .5 1 .6 0 .5-.5 .6 .4 .5 .8 .6 .6 .5-1.9 .6 1 .5-.8 .6-.7 .5 2 .6-.8 .5-.2 .6 .2 .5-.5 .6-.7 .5 2.4 .6-.8 .5-.6 .6 .6 .5 .3 .6-1.3 .5 .7 .6-.8 .5 .8 .6-.8 .5 2.3 .6-2.4 .5 .8 .6-.1 .5-.7 .6 1.1 .5-.9 .6-.3 .5 .4 .6-.7 .5 1.7 .6-.5 .5 .2 .6-2 .5 1.4 .6-.9 .5 .7 .6 1 .5-.8 .6-.4 .5 1.1 .6-.1 .5 .7 .6-3.2" stroke="#0000ff"/>
</g>
<g fill="#000" shape-rendering="crispEdges">
<circle cx="309.5" cy="165.4" r="12.6"/>
<circle cx="760.4" cy="923.2" r="12.6"/>
<circle cx="824.5" cy="965.3" r="12.6"/>
<circle cx="879.4" cy="188.3" r="12.6"/>
<circle cx="1184.5" cy="1095.5" r="12.6"/>
<circle cx="1436.5" cy="932.4" r="12.6"/>
<circle cx="1592.5" cy="1116.4" r="12.6"/>
<circle cx="1706.3" cy="1161.3" r="12.6"/>
<circle cx="1740.4" cy="1102.4" r="12.6"/>
<circle cx="1780.3" cy="765.0" r="12.6"/>
<circle cx="1840.2" cy="1188.3" r="12.6"/>
<circle cx="1988.4" cy="1162.1" r="12.6"/>
<circle cx="2092.2" cy="1180.4" r="12.6"/>
<path d="M 320.0,348.8 C 317.1,340.5 313.8,339.7 310.5,339.7 C 305.4,339.7 301.7,343.6 301.7,349.8 C 301.7,353.7 302.8,355.6 305.4,358.7 L 320.0,378.5 L 334.7,358.7 C 337.3,355.6 338.4,353.7 338.4,349.8 C 338.4,343.6 334.7,339.7 329.6,339.7 C 326.3,339.7 323.0,340.5 320.0,348.8 Z"/>
<path d="M 393.9,1039.1 C 391.0,1030.7 387.7,1029.9 384.5,1029.9 C 379.4,1029.9 375.8,1033.8 375.8,1040.0 C 375.8,1043.9 376.9,1045.9 379.4,1049.0 L 393.9,1068.9 L 408.4,1049.0 C 410.9,1045.9 412.0,1043.9 412.0,1040.0 C 412.0,1033.8 408.4,1029.9 403.3,1029.9 C 400.1,1029.9 396.8,1030.7 393.9,1039.1 Z"/>
<path d="M 920.0,1013.8 C 917.1,1005.6 913.9,1004.8 910.7,1004.8 C 905.8,1004.8 902.2,1008.6 902.2,1014.8 C 902.2,1018.7 903.3,1020.6 905.8,1023.7 L 920.0,1043.3 L 934.2,1023.7 C 936.6,1020.6 937.7,1018.7 937.7,1014.8 C 937.7,1008.6 934.2,1004.8 929.2,1004.8 C 926.0,1004.8 922.8,1005.6 920.0,1013.8 Z"/>
<path d="M 1268.8,1127.7 C 1265.9,1119.3 1262.6,1118.5 1259.4,1118.5 C 1254.3,1118.5 1250.7,1122.4 1250.7,1128.6 C 1250.7,1132.5 1251.8,1134.5 1254.3,1137.6 L 1268.8,1157.5 L 1283.3,1137.6 C 1285.8,1134.5 1286.9,1132.5 1286.9,1128.6 C 1286.9,1122.4 1283.3,1118.5 1278.2,1118.5 C 1275.0,1118.5 1271.7,1119.3 1268.8,1127.7 Z"/>
<path d="M 1477.2,1139.6 C 1474.2,1131.3 1470.9,1130.5 1467.7,1130.5 C 1462.6,1130.5 1458.9,1134.4 1458.9,1140.6 C 1458.9,1144.5 1460.0,1146.4 1462.6,1149.6 L 1477.2,1169.4 L 1491.8,1149.6 C 1494.3,1146.4 1495.4,1144.5 1495.4,1140.6 C 1495.4,1134.4 1491.8,1130.5 1486.6,1130.5 C 1483.4,1130.5 1480.1,1131.3 1477.2,1139.6 Z"/>
<path d="M 1566.0,1139.1 C 1563.0,1130.8 1559.7,1130.0 1556.5,1130.0 C 1551.4,1130.0 1547.7,1133.9 1547.7,1140.1 C 1547.7,1144.0 1548.8,1145.9 1551.4,1149.0 L 1566.0,1168.8 L 1580.5,1149.0 C 1583.1,1145.9 1584.2,1144.0 1584.2,1140.1 C 1584.2,1133.9 1580.5,1130.0 1575.4,1130.0 C 1572.2,1130.0 1568.9,1130.8 1566.0,1139.1 Z"/>
<path d="M 320.0,459.1 L 303.9,480.2 C 302.1,483.0 301.7,485.4 301.7,488.2 C 301.7,492.2 304.6,495.0 307.9,495.0 C 311.2,495.0 313.8,492.2 314.9,488.2 L 318.2,488.2 L 318.2,493.8 L 314.9,499.0 L 325.2,499.0 L 321.9,493.8 L 321.9,488.2 L 325.2,488.2 C 326.3,492.2 328.9,495.0 332.2,495.0 C 335.5,495.0 338.4,492.2 338.4,488.2 C 338.4,485.4 338.0,483.0 336.2,480.2 Z"/>
<path d="M 960.9,1086.7 L 945.1,1108.0 C 943.4,1110.8 943.0,1113.2 943.0,1116.0 C 943.0,1120.0 945.9,1122.8 949.1,1122.8 C 952.3,1122.8 954.8,1120.0 955.9,1116.0 L 959.1,1116.0 L 959.1,1121.6 L 955.9,1126.8 L 965.9,1126.8 L 962.7,1121.6 L 962.7,1116.0 L 965.9,1116.0 C 967.0,1120.0 969.5,1122.8 972.7,1122.8 C 975.9,1122.8 978.8,1120.0 978.8,1116.0 C 978.8,1113.2 978.4,1110.8 976.7,1108.0 Z"/>
<path d="M 320.0,243.6 L 336.1,264.4 L 320.0,285.1 L 303.9,264.4 Z"/>
<path d="M 1050.8,1089.0 L 1066.9,1109.3 L 1050.8,1129.6 L 1034.8,1109.3 Z"/>
</g>
<g stroke-width="7" stroke-linecap="round">
<line x1="1499" y1="114.4" x2="1668.5" y2="114.4" stroke="#000"/>
<line x1="1499" y1="209.4" x2="1668.5" y2="209.4" stroke="#f00"/>
<line x1="1499" y1="302.9" x2="1668.5" y2="302.9" stroke="#00f"/>
</g>
<text transform="matrix(0.9942 0 0 1.0136 357.61 185.58)" style="font-size:77px">Mg</text>
<text transform="matrix(0.9841 0 0 1.0106 364.03 281.43)" style="font-size:77px">MgO</text>
<text transform="matrix(0.9644 0 0 0.9928 364.07 376.82)" style="font-size:77px">Mg(OH)</text>
<text transform="matrix(1.0667 0 0 1.0517 620.97 406.50)" style="font-size:45px">2</text>
<text transform="matrix(0.9669 0 0 1.0121 364.07 496.71)" style="font-size:77px">MgF</text>
<text transform="matrix(1.1111 0 0 1.0759 505.68 525.70)" style="font-size:45px">2</text>
<text transform="matrix(0.9856 0 0 1.0314 1687.63 139.87)" style="font-size:77px">MAO</text>
<text transform="matrix(0.9683 0 0 1.0255 1687.16 234.07)" style="font-size:77px">MAO/HT</text>
<text transform="matrix(0.9633 0 0 1.0314 1687.57 328.47)" style="font-size:77px">MAO/HT/PDA</text>
<text transform="matrix(0.9885 0 0 1.0193 391.95 1746.88)" style="font-size:85px">20</text>
<text transform="matrix(0.9763 0 0 1.0333 932.95 1747.77)" style="font-size:85px">40</text>
<text transform="matrix(0.9731 0 0 1.0175 1472.01 1746.88)" style="font-size:85px">60</text>
<text transform="matrix(0.9392 0 0 1.0123 2013.88 1746.69)" style="font-size:85px">80</text>
<text transform="matrix(1.0512 0 0 1.0328 1163.70 1849.90)" style="font-size:98px;font-weight:bold">2</text>
<text transform="matrix(0.9535 0 0 0.9000 1213.09 1851.10)" style="font-size:98px;font-weight:bold">θ</text>
<text transform="matrix(0.9103 0 0 0.9438 1284.16 1849.85)" style="font-size:80px">(°)</text>
<text transform="translate(91.12 1193.69) rotate(-90) scale(0.9955 0.9753)" style="font-size:98px;font-weight:bold">Intensity (a.u.)</text>
</svg>
</body></html>
